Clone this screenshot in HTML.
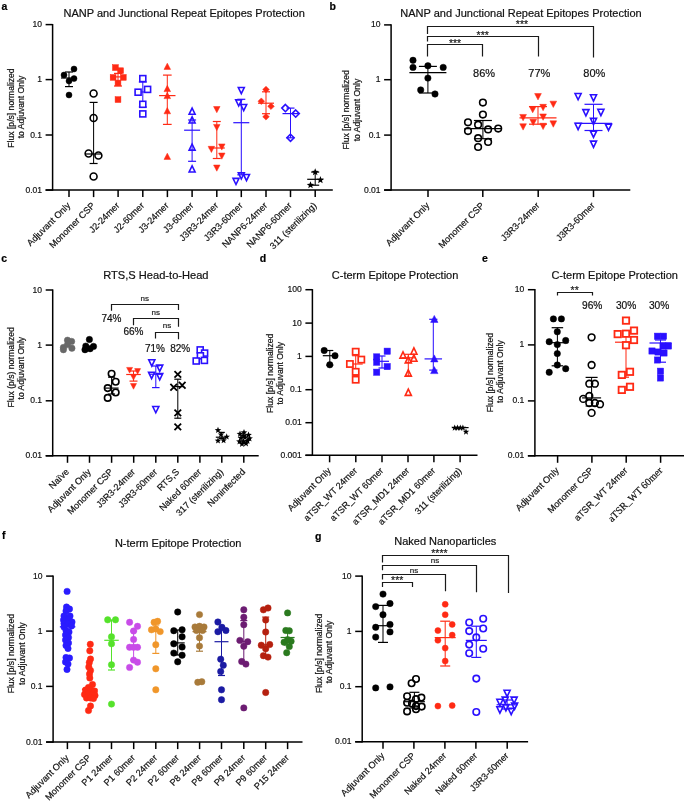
<!DOCTYPE html>
<html><head><meta charset="utf-8"><style>
html,body{margin:0;padding:0;background:#fff;}
svg{display:block;will-change:transform;}
text{font-family:"Liberation Sans",sans-serif;}
</style></head><body>
<svg width="685" height="801" viewBox="0 0 685 801">
<rect width="685" height="801" fill="#fff"/>
<text x="1.50" y="9.50" font-size="10.5" text-anchor="start" font-weight="bold" fill="#000" stroke="#000" stroke-width="0.2" >a</text>
<text x="184.20" y="16.70" font-size="11" text-anchor="middle" font-weight="normal" fill="#111" stroke="#111" stroke-width="0.2" >NANP and Junctional Repeat Epitopes Protection</text>
<line x1="52.60" y1="24.00" x2="52.60" y2="190.70" stroke="#000" stroke-width="1.5"/>
<line x1="45.60" y1="190.10" x2="332.80" y2="190.10" stroke="#000" stroke-width="1.5"/>
<line x1="45.60" y1="24.60" x2="52.60" y2="24.60" stroke="#000" stroke-width="1.5"/>
<text x="0.00" y="0.00" font-size="9.5" text-anchor="end" font-weight="normal" fill="#111" stroke="#111" stroke-width="0.2" transform="translate(42.00,27.17) scale(0.9,1)" >10</text>
<line x1="45.60" y1="79.60" x2="52.60" y2="79.60" stroke="#000" stroke-width="1.5"/>
<text x="0.00" y="0.00" font-size="9.5" text-anchor="end" font-weight="normal" fill="#111" stroke="#111" stroke-width="0.2" transform="translate(42.00,82.16) scale(0.9,1)" >1</text>
<line x1="45.60" y1="135.00" x2="52.60" y2="135.00" stroke="#000" stroke-width="1.5"/>
<text x="0.00" y="0.00" font-size="9.5" text-anchor="end" font-weight="normal" fill="#111" stroke="#111" stroke-width="0.2" transform="translate(42.00,137.56) scale(0.9,1)" >0.1</text>
<line x1="45.60" y1="190.10" x2="52.60" y2="190.10" stroke="#000" stroke-width="1.5"/>
<text x="0.00" y="0.00" font-size="9.5" text-anchor="end" font-weight="normal" fill="#111" stroke="#111" stroke-width="0.2" transform="translate(42.00,192.66) scale(0.9,1)" >0.01</text>
<line x1="69.00" y1="190.10" x2="69.00" y2="197.10" stroke="#000" stroke-width="1.5"/>
<text x="0.00" y="0.00" font-size="9.2" text-anchor="end" font-weight="normal" fill="#111" stroke="#111" stroke-width="0.2" transform="translate(71.00,206.10) rotate(-45)" >Adjuvant Only</text>
<line x1="93.60" y1="190.10" x2="93.60" y2="197.10" stroke="#000" stroke-width="1.5"/>
<text x="0.00" y="0.00" font-size="9.2" text-anchor="end" font-weight="normal" fill="#111" stroke="#111" stroke-width="0.2" transform="translate(95.60,206.10) rotate(-45)" >Monomer CSP</text>
<line x1="118.10" y1="190.10" x2="118.10" y2="197.10" stroke="#000" stroke-width="1.5"/>
<text x="0.00" y="0.00" font-size="9.2" text-anchor="end" font-weight="normal" fill="#111" stroke="#111" stroke-width="0.2" transform="translate(120.10,206.10) rotate(-45)" >J2-24mer</text>
<line x1="142.80" y1="190.10" x2="142.80" y2="197.10" stroke="#000" stroke-width="1.5"/>
<text x="0.00" y="0.00" font-size="9.2" text-anchor="end" font-weight="normal" fill="#111" stroke="#111" stroke-width="0.2" transform="translate(144.80,206.10) rotate(-45)" >J2-60mer</text>
<line x1="167.40" y1="190.10" x2="167.40" y2="197.10" stroke="#000" stroke-width="1.5"/>
<text x="0.00" y="0.00" font-size="9.2" text-anchor="end" font-weight="normal" fill="#111" stroke="#111" stroke-width="0.2" transform="translate(169.40,206.10) rotate(-45)" >J3-24mer</text>
<line x1="192.10" y1="190.10" x2="192.10" y2="197.10" stroke="#000" stroke-width="1.5"/>
<text x="0.00" y="0.00" font-size="9.2" text-anchor="end" font-weight="normal" fill="#111" stroke="#111" stroke-width="0.2" transform="translate(194.10,206.10) rotate(-45)" >J3-60mer</text>
<line x1="216.80" y1="190.10" x2="216.80" y2="197.10" stroke="#000" stroke-width="1.5"/>
<text x="0.00" y="0.00" font-size="9.2" text-anchor="end" font-weight="normal" fill="#111" stroke="#111" stroke-width="0.2" transform="translate(218.80,206.10) rotate(-45)" >J3R3-24mer</text>
<line x1="241.30" y1="190.10" x2="241.30" y2="197.10" stroke="#000" stroke-width="1.5"/>
<text x="0.00" y="0.00" font-size="9.2" text-anchor="end" font-weight="normal" fill="#111" stroke="#111" stroke-width="0.2" transform="translate(243.30,206.10) rotate(-45)" >J3R3-60mer</text>
<line x1="266.00" y1="190.10" x2="266.00" y2="197.10" stroke="#000" stroke-width="1.5"/>
<text x="0.00" y="0.00" font-size="9.2" text-anchor="end" font-weight="normal" fill="#111" stroke="#111" stroke-width="0.2" transform="translate(268.00,206.10) rotate(-45)" >NANP6-24mer</text>
<line x1="290.50" y1="190.10" x2="290.50" y2="197.10" stroke="#000" stroke-width="1.5"/>
<text x="0.00" y="0.00" font-size="9.2" text-anchor="end" font-weight="normal" fill="#111" stroke="#111" stroke-width="0.2" transform="translate(292.50,206.10) rotate(-45)" >NANP6-60mer</text>
<line x1="315.20" y1="190.10" x2="315.20" y2="197.10" stroke="#000" stroke-width="1.5"/>
<text x="0.00" y="0.00" font-size="9.2" text-anchor="end" font-weight="normal" fill="#111" stroke="#111" stroke-width="0.2" transform="translate(317.20,206.10) rotate(-45)" >311 (sterilizing)</text>
<text x="0.00" y="0.00" font-size="8.6" text-anchor="middle" font-weight="normal" fill="#111" stroke="#111" stroke-width="0.2" transform="translate(14.20,108.00) rotate(-90)" >Flux [p/s] normalized</text>
<text x="0.00" y="0.00" font-size="8.6" text-anchor="middle" font-weight="normal" fill="#111" stroke="#111" stroke-width="0.2" transform="translate(24.10,107.00) rotate(-90)" >to Adjuvant Only</text>
<line x1="69.00" y1="78.00" x2="69.00" y2="72.00" stroke="#000" stroke-width="1.02"/>
<line x1="65.00" y1="72.00" x2="73.00" y2="72.00" stroke="#000" stroke-width="1.2"/>
<line x1="69.00" y1="78.00" x2="69.00" y2="86.60" stroke="#000" stroke-width="1.02"/>
<line x1="65.00" y1="86.60" x2="73.00" y2="86.60" stroke="#000" stroke-width="1.2"/>
<line x1="61.00" y1="78.00" x2="77.00" y2="78.00" stroke="#000" stroke-width="1.2"/>
<circle cx="64.00" cy="75.00" r="3.00" fill="#000" stroke="#000" stroke-width="0.5"/>
<circle cx="74.00" cy="69.00" r="3.00" fill="#000" stroke="#000" stroke-width="0.5"/>
<circle cx="74.00" cy="78.60" r="3.00" fill="#000" stroke="#000" stroke-width="0.5"/>
<circle cx="69.00" cy="81.00" r="3.00" fill="#000" stroke="#000" stroke-width="0.5"/>
<circle cx="69.00" cy="95.00" r="3.00" fill="#000" stroke="#000" stroke-width="0.5"/>
<line x1="93.60" y1="154.00" x2="93.60" y2="102.40" stroke="#000" stroke-width="1.02"/>
<line x1="89.60" y1="102.40" x2="97.60" y2="102.40" stroke="#000" stroke-width="1.2"/>
<line x1="93.60" y1="154.00" x2="93.60" y2="163.50" stroke="#000" stroke-width="1.02"/>
<line x1="89.60" y1="163.50" x2="97.60" y2="163.50" stroke="#000" stroke-width="1.2"/>
<line x1="85.60" y1="154.00" x2="101.60" y2="154.00" stroke="#000" stroke-width="1.2"/>
<circle cx="93.60" cy="93.50" r="3.45" fill="none" stroke="#000" stroke-width="1.6"/>
<circle cx="93.60" cy="118.00" r="3.45" fill="none" stroke="#000" stroke-width="1.6"/>
<circle cx="88.60" cy="153.50" r="3.45" fill="none" stroke="#000" stroke-width="1.6"/>
<circle cx="98.40" cy="155.50" r="3.45" fill="none" stroke="#000" stroke-width="1.6"/>
<circle cx="93.60" cy="176.50" r="3.45" fill="none" stroke="#000" stroke-width="1.6"/>
<rect x="112.50" y="64.70" width="5.80" height="5.80" fill="#ff2a14" stroke="#ff2a14" stroke-width="0.5"/>
<rect x="117.70" y="67.80" width="5.80" height="5.80" fill="#ff2a14" stroke="#ff2a14" stroke-width="0.5"/>
<rect x="110.20" y="74.50" width="5.80" height="5.80" fill="#ff2a14" stroke="#ff2a14" stroke-width="0.5"/>
<rect x="120.40" y="74.50" width="5.80" height="5.80" fill="#ff2a14" stroke="#ff2a14" stroke-width="0.5"/>
<rect x="115.10" y="80.10" width="5.80" height="5.80" fill="#ff2a14" stroke="#ff2a14" stroke-width="0.5"/>
<rect x="115.10" y="96.70" width="5.80" height="5.80" fill="#ff2a14" stroke="#ff2a14" stroke-width="0.5"/>
<line x1="118.00" y1="76.90" x2="118.00" y2="73.40" stroke="#ff2a14" stroke-width="1.02"/>
<line x1="114.00" y1="73.40" x2="122.00" y2="73.40" stroke="#ff2a14" stroke-width="1.2"/>
<line x1="118.00" y1="76.90" x2="118.00" y2="86.00" stroke="#ff2a14" stroke-width="1.02"/>
<line x1="114.00" y1="86.00" x2="122.00" y2="86.00" stroke="#ff2a14" stroke-width="1.2"/>
<line x1="110.00" y1="76.90" x2="126.00" y2="76.90" stroke="#ff2a14" stroke-width="1.2"/>
<line x1="142.80" y1="92.00" x2="142.80" y2="82.00" stroke="#2a10ff" stroke-width="1.02"/>
<line x1="138.80" y1="82.00" x2="146.80" y2="82.00" stroke="#2a10ff" stroke-width="1.2"/>
<line x1="142.80" y1="92.00" x2="142.80" y2="107.00" stroke="#2a10ff" stroke-width="1.02"/>
<line x1="138.80" y1="107.00" x2="146.80" y2="107.00" stroke="#2a10ff" stroke-width="1.2"/>
<line x1="134.80" y1="92.00" x2="150.80" y2="92.00" stroke="#2a10ff" stroke-width="1.2"/>
<rect x="139.80" y="75.60" width="6.00" height="6.00" fill="#fff" stroke="#2a10ff" stroke-width="1.6"/>
<rect x="135.10" y="89.20" width="6.00" height="6.00" fill="#fff" stroke="#2a10ff" stroke-width="1.6"/>
<rect x="144.60" y="86.40" width="6.00" height="6.00" fill="#fff" stroke="#2a10ff" stroke-width="1.6"/>
<rect x="139.80" y="101.30" width="6.00" height="6.00" fill="#fff" stroke="#2a10ff" stroke-width="1.6"/>
<rect x="139.80" y="110.90" width="6.00" height="6.00" fill="#fff" stroke="#2a10ff" stroke-width="1.6"/>
<line x1="167.30" y1="95.60" x2="167.30" y2="75.10" stroke="#ff2a14" stroke-width="1.02"/>
<line x1="162.95" y1="75.10" x2="171.65" y2="75.10" stroke="#ff2a14" stroke-width="1.2"/>
<line x1="167.30" y1="95.60" x2="167.30" y2="124.40" stroke="#ff2a14" stroke-width="1.02"/>
<line x1="162.95" y1="124.40" x2="171.65" y2="124.40" stroke="#ff2a14" stroke-width="1.2"/>
<line x1="159.10" y1="95.60" x2="175.50" y2="95.60" stroke="#ff2a14" stroke-width="1.2"/>
<polygon points="167.30,63.14 170.60,69.41 164.00,69.41" fill="#ff2a14" stroke="#ff2a14" stroke-width="0.5" stroke-linejoin="miter"/>
<polygon points="167.30,85.34 170.60,91.61 164.00,91.61" fill="#ff2a14" stroke="#ff2a14" stroke-width="0.5" stroke-linejoin="miter"/>
<polygon points="167.30,92.34 170.60,98.61 164.00,98.61" fill="#ff2a14" stroke="#ff2a14" stroke-width="0.5" stroke-linejoin="miter"/>
<polygon points="167.30,107.54 170.60,113.81 164.00,113.81" fill="#ff2a14" stroke="#ff2a14" stroke-width="0.5" stroke-linejoin="miter"/>
<polygon points="167.30,153.14 170.60,159.41 164.00,159.41" fill="#ff2a14" stroke="#ff2a14" stroke-width="0.5" stroke-linejoin="miter"/>
<line x1="192.10" y1="130.20" x2="192.10" y2="120.00" stroke="#2a10ff" stroke-width="1.02"/>
<line x1="188.10" y1="120.00" x2="196.10" y2="120.00" stroke="#2a10ff" stroke-width="1.2"/>
<line x1="192.10" y1="130.20" x2="192.10" y2="161.30" stroke="#2a10ff" stroke-width="1.02"/>
<line x1="188.10" y1="161.30" x2="196.10" y2="161.30" stroke="#2a10ff" stroke-width="1.2"/>
<line x1="184.10" y1="130.20" x2="200.10" y2="130.20" stroke="#2a10ff" stroke-width="1.2"/>
<polygon points="192.10,108.09 195.09,114.27 189.11,114.27" fill="none" stroke="#2a10ff" stroke-width="1.6" stroke-linejoin="miter"/>
<polygon points="192.10,116.89 195.09,123.07 189.11,123.07" fill="none" stroke="#2a10ff" stroke-width="1.6" stroke-linejoin="miter"/>
<polygon points="192.10,143.99 195.09,150.17 189.11,150.17" fill="none" stroke="#2a10ff" stroke-width="1.6" stroke-linejoin="miter"/>
<polygon points="192.10,165.79 195.09,171.97 189.11,171.97" fill="none" stroke="#2a10ff" stroke-width="1.6" stroke-linejoin="miter"/>
<line x1="216.80" y1="148.00" x2="216.80" y2="121.50" stroke="#ff2a14" stroke-width="1.02"/>
<line x1="212.80" y1="121.50" x2="220.80" y2="121.50" stroke="#ff2a14" stroke-width="1.2"/>
<line x1="216.80" y1="148.00" x2="216.80" y2="158.50" stroke="#ff2a14" stroke-width="1.02"/>
<line x1="212.80" y1="158.50" x2="220.80" y2="158.50" stroke="#ff2a14" stroke-width="1.2"/>
<line x1="208.80" y1="148.00" x2="224.80" y2="148.00" stroke="#ff2a14" stroke-width="1.2"/>
<polygon points="216.80,112.70 220.05,106.53 213.55,106.53" fill="#ff2a14" stroke="#ff2a14" stroke-width="0.5" stroke-linejoin="miter"/>
<polygon points="216.80,130.61 220.05,124.43 213.55,124.43" fill="#ff2a14" stroke="#ff2a14" stroke-width="0.5" stroke-linejoin="miter"/>
<polygon points="211.40,152.51 214.65,146.33 208.15,146.33" fill="#ff2a14" stroke="#ff2a14" stroke-width="0.5" stroke-linejoin="miter"/>
<polygon points="221.80,150.11 225.05,143.93 218.55,143.93" fill="#ff2a14" stroke="#ff2a14" stroke-width="0.5" stroke-linejoin="miter"/>
<polygon points="221.80,159.21 225.05,153.03 218.55,153.03" fill="#ff2a14" stroke="#ff2a14" stroke-width="0.5" stroke-linejoin="miter"/>
<polygon points="216.80,171.21 220.05,165.03 213.55,165.03" fill="#ff2a14" stroke="#ff2a14" stroke-width="0.5" stroke-linejoin="miter"/>
<line x1="241.30" y1="122.70" x2="241.30" y2="99.30" stroke="#2a10ff" stroke-width="1.02"/>
<line x1="237.30" y1="99.30" x2="245.30" y2="99.30" stroke="#2a10ff" stroke-width="1.2"/>
<line x1="241.30" y1="122.70" x2="241.30" y2="174.80" stroke="#2a10ff" stroke-width="1.02"/>
<line x1="237.30" y1="174.80" x2="245.30" y2="174.80" stroke="#2a10ff" stroke-width="1.2"/>
<line x1="233.30" y1="122.70" x2="249.30" y2="122.70" stroke="#2a10ff" stroke-width="1.2"/>
<polygon points="241.30,93.70 244.29,87.53 238.31,87.53" fill="none" stroke="#2a10ff" stroke-width="1.6" stroke-linejoin="miter"/>
<polygon points="238.70,106.00 241.69,99.83 235.71,99.83" fill="none" stroke="#2a10ff" stroke-width="1.6" stroke-linejoin="miter"/>
<polygon points="243.70,110.70 246.69,104.53 240.71,104.53" fill="none" stroke="#2a10ff" stroke-width="1.6" stroke-linejoin="miter"/>
<polygon points="241.30,179.01 244.29,172.83 238.31,172.83" fill="none" stroke="#2a10ff" stroke-width="1.6" stroke-linejoin="miter"/>
<polygon points="246.50,180.61 249.49,174.43 243.51,174.43" fill="none" stroke="#2a10ff" stroke-width="1.6" stroke-linejoin="miter"/>
<polygon points="236.00,184.51 238.99,178.33 233.01,178.33" fill="none" stroke="#2a10ff" stroke-width="1.6" stroke-linejoin="miter"/>
<line x1="266.00" y1="103.20" x2="266.00" y2="91.80" stroke="#ff2a14" stroke-width="1.02"/>
<line x1="262.00" y1="91.80" x2="270.00" y2="91.80" stroke="#ff2a14" stroke-width="1.2"/>
<line x1="266.00" y1="103.20" x2="266.00" y2="113.70" stroke="#ff2a14" stroke-width="1.02"/>
<line x1="262.00" y1="113.70" x2="270.00" y2="113.70" stroke="#ff2a14" stroke-width="1.2"/>
<line x1="258.00" y1="103.20" x2="274.00" y2="103.20" stroke="#ff2a14" stroke-width="1.2"/>
<polygon points="266.00,86.20 269.30,89.50 266.00,92.80 262.70,89.50" fill="#ff2a14" stroke="#ff2a14" stroke-width="0.5"/>
<polygon points="261.30,97.90 264.60,101.20 261.30,104.50 258.00,101.20" fill="#ff2a14" stroke="#ff2a14" stroke-width="0.5"/>
<polygon points="271.00,103.00 274.30,106.30 271.00,109.60 267.70,106.30" fill="#ff2a14" stroke="#ff2a14" stroke-width="0.5"/>
<polygon points="266.00,113.50 269.30,116.80 266.00,120.10 262.70,116.80" fill="#ff2a14" stroke="#ff2a14" stroke-width="0.5"/>
<line x1="290.50" y1="113.60" x2="290.50" y2="108.10" stroke="#2a10ff" stroke-width="1.02"/>
<line x1="286.50" y1="108.10" x2="294.50" y2="108.10" stroke="#2a10ff" stroke-width="1.2"/>
<line x1="290.50" y1="113.60" x2="290.50" y2="137.80" stroke="#2a10ff" stroke-width="1.02"/>
<line x1="286.50" y1="137.80" x2="294.50" y2="137.80" stroke="#2a10ff" stroke-width="1.2"/>
<line x1="282.50" y1="113.60" x2="298.50" y2="113.60" stroke="#2a10ff" stroke-width="1.2"/>
<polygon points="285.40,104.50 289.00,108.10 285.40,111.70 281.80,108.10" fill="none" stroke="#2a10ff" stroke-width="1.6"/>
<polygon points="295.70,110.00 299.30,113.60 295.70,117.20 292.10,113.60" fill="none" stroke="#2a10ff" stroke-width="1.6"/>
<polygon points="290.50,134.20 294.10,137.80 290.50,141.40 286.90,137.80" fill="none" stroke="#2a10ff" stroke-width="1.6"/>
<line x1="315.20" y1="179.30" x2="315.20" y2="172.10" stroke="#000" stroke-width="1.02"/>
<line x1="311.20" y1="172.10" x2="319.20" y2="172.10" stroke="#000" stroke-width="1.2"/>
<line x1="315.20" y1="179.30" x2="315.20" y2="185.20" stroke="#000" stroke-width="1.02"/>
<line x1="311.20" y1="185.20" x2="319.20" y2="185.20" stroke="#000" stroke-width="1.2"/>
<line x1="307.20" y1="179.30" x2="323.20" y2="179.30" stroke="#000" stroke-width="1.2"/>
<polygon points="315.20,168.19 316.17,170.77 318.92,170.89 316.76,172.61 317.50,175.26 315.20,173.74 312.90,175.26 313.64,172.61 311.48,170.89 314.23,170.77" fill="#000" stroke="none"/>
<polygon points="320.40,176.09 321.37,178.67 324.12,178.79 321.96,180.51 322.70,183.16 320.40,181.64 318.10,183.16 318.84,180.51 316.68,178.79 319.43,178.67" fill="#000" stroke="none"/>
<polygon points="310.50,181.29 311.47,183.87 314.22,183.99 312.06,185.71 312.80,188.36 310.50,186.84 308.20,188.36 308.94,185.71 306.78,183.99 309.53,183.87" fill="#000" stroke="none"/>
<text x="329.50" y="9.50" font-size="10.5" text-anchor="start" font-weight="bold" fill="#000" stroke="#000" stroke-width="0.2" >b</text>
<text x="521.00" y="16.70" font-size="11" text-anchor="middle" font-weight="normal" fill="#111" stroke="#111" stroke-width="0.2" >NANP and Junctional Repeat Epitopes Protection</text>
<line x1="391.10" y1="24.30" x2="391.10" y2="190.70" stroke="#000" stroke-width="1.5"/>
<line x1="384.10" y1="190.10" x2="630.30" y2="190.10" stroke="#000" stroke-width="1.5"/>
<line x1="384.10" y1="24.90" x2="391.10" y2="24.90" stroke="#000" stroke-width="1.5"/>
<text x="0.00" y="0.00" font-size="9.5" text-anchor="end" font-weight="normal" fill="#111" stroke="#111" stroke-width="0.2" transform="translate(380.50,27.46) scale(0.9,1)" >10</text>
<line x1="384.10" y1="79.70" x2="391.10" y2="79.70" stroke="#000" stroke-width="1.5"/>
<text x="0.00" y="0.00" font-size="9.5" text-anchor="end" font-weight="normal" fill="#111" stroke="#111" stroke-width="0.2" transform="translate(380.50,82.27) scale(0.9,1)" >1</text>
<line x1="384.10" y1="135.10" x2="391.10" y2="135.10" stroke="#000" stroke-width="1.5"/>
<text x="0.00" y="0.00" font-size="9.5" text-anchor="end" font-weight="normal" fill="#111" stroke="#111" stroke-width="0.2" transform="translate(380.50,137.66) scale(0.9,1)" >0.1</text>
<line x1="384.10" y1="190.10" x2="391.10" y2="190.10" stroke="#000" stroke-width="1.5"/>
<text x="0.00" y="0.00" font-size="9.5" text-anchor="end" font-weight="normal" fill="#111" stroke="#111" stroke-width="0.2" transform="translate(380.50,192.66) scale(0.9,1)" >0.01</text>
<line x1="428.00" y1="190.10" x2="428.00" y2="197.10" stroke="#000" stroke-width="1.5"/>
<text x="0.00" y="0.00" font-size="9.2" text-anchor="end" font-weight="normal" fill="#111" stroke="#111" stroke-width="0.2" transform="translate(430.00,206.10) rotate(-45)" >Adjuvant Only</text>
<line x1="482.80" y1="190.10" x2="482.80" y2="197.10" stroke="#000" stroke-width="1.5"/>
<text x="0.00" y="0.00" font-size="9.2" text-anchor="end" font-weight="normal" fill="#111" stroke="#111" stroke-width="0.2" transform="translate(484.80,206.10) rotate(-45)" >Monomer CSP</text>
<line x1="538.20" y1="190.10" x2="538.20" y2="197.10" stroke="#000" stroke-width="1.5"/>
<text x="0.00" y="0.00" font-size="9.2" text-anchor="end" font-weight="normal" fill="#111" stroke="#111" stroke-width="0.2" transform="translate(540.20,206.10) rotate(-45)" >J3R3-24mer</text>
<line x1="593.50" y1="190.10" x2="593.50" y2="197.10" stroke="#000" stroke-width="1.5"/>
<text x="0.00" y="0.00" font-size="9.2" text-anchor="end" font-weight="normal" fill="#111" stroke="#111" stroke-width="0.2" transform="translate(595.50,206.10) rotate(-45)" >J3R3-60mer</text>
<text x="0.00" y="0.00" font-size="8.6" text-anchor="middle" font-weight="normal" fill="#111" stroke="#111" stroke-width="0.2" transform="translate(348.80,109.80) rotate(-90)" >Flux [p/s] normalized</text>
<text x="0.00" y="0.00" font-size="8.6" text-anchor="middle" font-weight="normal" fill="#111" stroke="#111" stroke-width="0.2" transform="translate(359.50,110.00) rotate(-90)" >to Adjuvant Only</text>
<path d="M427.50,34.00V26.50H593.50V57.40" stroke="#1a1a1a" stroke-width="1.2" fill="none"/>
<text x="522.00" y="28.07" font-size="10.5" text-anchor="middle" font-weight="normal" fill="#222" stroke="#222" stroke-width="0.2" >***</text>
<path d="M427.50,41.60V36.50H538.50V56.60" stroke="#1a1a1a" stroke-width="1.2" fill="none"/>
<text x="482.75" y="38.97" font-size="10.5" text-anchor="middle" font-weight="normal" fill="#222" stroke="#222" stroke-width="0.2" >***</text>
<path d="M427.50,56.60V44.50H482.50V56.60" stroke="#1a1a1a" stroke-width="1.2" fill="none"/>
<text x="455.05" y="46.97" font-size="10.5" text-anchor="middle" font-weight="normal" fill="#222" stroke="#222" stroke-width="0.2" >***</text>
<text x="484.10" y="77.30" font-size="11.0" text-anchor="middle" font-weight="normal" fill="#111" stroke="#111" stroke-width="0.2" >86%</text>
<text x="539.30" y="77.30" font-size="11.0" text-anchor="middle" font-weight="normal" fill="#111" stroke="#111" stroke-width="0.2" >77%</text>
<text x="594.30" y="77.30" font-size="11.0" text-anchor="middle" font-weight="normal" fill="#111" stroke="#111" stroke-width="0.2" >80%</text>
<line x1="427.90" y1="72.60" x2="427.90" y2="66.40" stroke="#000" stroke-width="1.02"/>
<line x1="418.90" y1="66.40" x2="436.90" y2="66.40" stroke="#000" stroke-width="1.2"/>
<line x1="427.90" y1="72.60" x2="427.90" y2="93.00" stroke="#000" stroke-width="1.02"/>
<line x1="418.90" y1="93.00" x2="436.90" y2="93.00" stroke="#000" stroke-width="1.2"/>
<line x1="409.40" y1="72.60" x2="446.40" y2="72.60" stroke="#000" stroke-width="1.2"/>
<circle cx="413.00" cy="60.30" r="3.20" fill="#000" stroke="#000" stroke-width="0.5"/>
<circle cx="413.00" cy="67.40" r="3.20" fill="#000" stroke="#000" stroke-width="0.5"/>
<circle cx="427.90" cy="65.80" r="3.20" fill="#000" stroke="#000" stroke-width="0.5"/>
<circle cx="443.20" cy="67.40" r="3.20" fill="#000" stroke="#000" stroke-width="0.5"/>
<circle cx="427.90" cy="78.10" r="3.20" fill="#000" stroke="#000" stroke-width="0.5"/>
<circle cx="420.70" cy="89.90" r="3.20" fill="#000" stroke="#000" stroke-width="0.5"/>
<circle cx="435.00" cy="94.00" r="3.20" fill="#000" stroke="#000" stroke-width="0.5"/>
<line x1="482.90" y1="128.70" x2="482.90" y2="120.50" stroke="#000" stroke-width="1.02"/>
<line x1="473.90" y1="120.50" x2="491.90" y2="120.50" stroke="#000" stroke-width="1.2"/>
<line x1="482.90" y1="128.70" x2="482.90" y2="138.70" stroke="#000" stroke-width="1.02"/>
<line x1="473.90" y1="138.70" x2="491.90" y2="138.70" stroke="#000" stroke-width="1.2"/>
<line x1="464.40" y1="128.70" x2="501.40" y2="128.70" stroke="#000" stroke-width="1.2"/>
<circle cx="482.90" cy="102.60" r="3.30" fill="none" stroke="#000" stroke-width="1.6"/>
<circle cx="482.90" cy="114.60" r="3.30" fill="none" stroke="#000" stroke-width="1.6"/>
<circle cx="468.00" cy="122.30" r="3.30" fill="none" stroke="#000" stroke-width="1.6"/>
<circle cx="478.10" cy="124.70" r="3.30" fill="none" stroke="#000" stroke-width="1.6"/>
<circle cx="468.00" cy="131.10" r="3.30" fill="none" stroke="#000" stroke-width="1.6"/>
<circle cx="488.10" cy="129.40" r="3.30" fill="none" stroke="#000" stroke-width="1.6"/>
<circle cx="498.20" cy="128.60" r="3.30" fill="none" stroke="#000" stroke-width="1.6"/>
<circle cx="478.10" cy="138.20" r="3.30" fill="none" stroke="#000" stroke-width="1.6"/>
<circle cx="488.10" cy="141.90" r="3.30" fill="none" stroke="#000" stroke-width="1.6"/>
<circle cx="478.10" cy="147.00" r="3.30" fill="none" stroke="#000" stroke-width="1.6"/>
<line x1="538.00" y1="117.80" x2="538.00" y2="106.60" stroke="#ff2a14" stroke-width="1.02"/>
<line x1="529.00" y1="106.60" x2="547.00" y2="106.60" stroke="#ff2a14" stroke-width="1.2"/>
<line x1="538.00" y1="117.80" x2="538.00" y2="124.20" stroke="#ff2a14" stroke-width="1.02"/>
<line x1="529.00" y1="124.20" x2="547.00" y2="124.20" stroke="#ff2a14" stroke-width="1.2"/>
<line x1="519.50" y1="117.80" x2="556.50" y2="117.80" stroke="#ff2a14" stroke-width="1.2"/>
<polygon points="538.00,99.92 541.35,93.55 534.65,93.55" fill="#ff2a14" stroke="#ff2a14" stroke-width="0.5" stroke-linejoin="miter"/>
<polygon points="553.30,107.52 556.65,101.15 549.95,101.15" fill="#ff2a14" stroke="#ff2a14" stroke-width="0.5" stroke-linejoin="miter"/>
<polygon points="532.70,112.82 536.05,106.45 529.35,106.45" fill="#ff2a14" stroke="#ff2a14" stroke-width="0.5" stroke-linejoin="miter"/>
<polygon points="543.10,110.72 546.45,104.35 539.75,104.35" fill="#ff2a14" stroke="#ff2a14" stroke-width="0.5" stroke-linejoin="miter"/>
<polygon points="523.10,120.82 526.45,114.45 519.75,114.45" fill="#ff2a14" stroke="#ff2a14" stroke-width="0.5" stroke-linejoin="miter"/>
<polygon points="543.10,120.32 546.45,113.95 539.75,113.95" fill="#ff2a14" stroke="#ff2a14" stroke-width="0.5" stroke-linejoin="miter"/>
<polygon points="533.20,125.62 536.55,119.25 529.85,119.25" fill="#ff2a14" stroke="#ff2a14" stroke-width="0.5" stroke-linejoin="miter"/>
<polygon points="523.10,130.12 526.45,123.75 519.75,123.75" fill="#ff2a14" stroke="#ff2a14" stroke-width="0.5" stroke-linejoin="miter"/>
<polygon points="543.10,129.62 546.45,123.25 539.75,123.25" fill="#ff2a14" stroke="#ff2a14" stroke-width="0.5" stroke-linejoin="miter"/>
<polygon points="553.30,127.22 556.65,120.85 549.95,120.85" fill="#ff2a14" stroke="#ff2a14" stroke-width="0.5" stroke-linejoin="miter"/>
<line x1="593.50" y1="123.40" x2="593.50" y2="104.30" stroke="#2a10ff" stroke-width="1.02"/>
<line x1="584.50" y1="104.30" x2="602.50" y2="104.30" stroke="#2a10ff" stroke-width="1.2"/>
<line x1="593.50" y1="123.40" x2="593.50" y2="130.50" stroke="#2a10ff" stroke-width="1.02"/>
<line x1="584.50" y1="130.50" x2="602.50" y2="130.50" stroke="#2a10ff" stroke-width="1.2"/>
<line x1="575.00" y1="123.40" x2="612.00" y2="123.40" stroke="#2a10ff" stroke-width="1.2"/>
<polygon points="578.10,99.76 581.14,93.49 575.06,93.49" fill="none" stroke="#2a10ff" stroke-width="1.6" stroke-linejoin="miter"/>
<polygon points="593.50,101.06 596.54,94.79 590.46,94.79" fill="none" stroke="#2a10ff" stroke-width="1.6" stroke-linejoin="miter"/>
<polygon points="585.90,115.86 588.94,109.59 582.86,109.59" fill="none" stroke="#2a10ff" stroke-width="1.6" stroke-linejoin="miter"/>
<polygon points="600.90,115.56 603.94,109.29 597.86,109.29" fill="none" stroke="#2a10ff" stroke-width="1.6" stroke-linejoin="miter"/>
<polygon points="593.50,124.66 596.54,118.39 590.46,118.39" fill="none" stroke="#2a10ff" stroke-width="1.6" stroke-linejoin="miter"/>
<polygon points="578.10,129.56 581.14,123.29 575.06,123.29" fill="none" stroke="#2a10ff" stroke-width="1.6" stroke-linejoin="miter"/>
<polygon points="608.50,130.46 611.54,124.19 605.46,124.19" fill="none" stroke="#2a10ff" stroke-width="1.6" stroke-linejoin="miter"/>
<polygon points="593.50,137.46 596.54,131.19 590.46,131.19" fill="none" stroke="#2a10ff" stroke-width="1.6" stroke-linejoin="miter"/>
<polygon points="593.50,147.36 596.54,141.09 590.46,141.09" fill="none" stroke="#2a10ff" stroke-width="1.6" stroke-linejoin="miter"/>
<text x="1.30" y="262.00" font-size="10.5" text-anchor="start" font-weight="bold" fill="#000" stroke="#000" stroke-width="0.2" >c</text>
<text x="155.90" y="279.30" font-size="11.1" text-anchor="middle" font-weight="normal" fill="#111" stroke="#111" stroke-width="0.2" >RTS,S Head-to-Head</text>
<line x1="52.70" y1="289.40" x2="52.70" y2="456.40" stroke="#000" stroke-width="1.5"/>
<line x1="45.70" y1="455.80" x2="258.70" y2="455.80" stroke="#000" stroke-width="1.5"/>
<line x1="45.70" y1="290.00" x2="52.70" y2="290.00" stroke="#000" stroke-width="1.5"/>
<text x="0.00" y="0.00" font-size="9.5" text-anchor="end" font-weight="normal" fill="#111" stroke="#111" stroke-width="0.2" transform="translate(42.10,292.56) scale(0.9,1)" >10</text>
<line x1="45.70" y1="345.10" x2="52.70" y2="345.10" stroke="#000" stroke-width="1.5"/>
<text x="0.00" y="0.00" font-size="9.5" text-anchor="end" font-weight="normal" fill="#111" stroke="#111" stroke-width="0.2" transform="translate(42.10,347.67) scale(0.9,1)" >1</text>
<line x1="45.70" y1="400.80" x2="52.70" y2="400.80" stroke="#000" stroke-width="1.5"/>
<text x="0.00" y="0.00" font-size="9.5" text-anchor="end" font-weight="normal" fill="#111" stroke="#111" stroke-width="0.2" transform="translate(42.10,403.37) scale(0.9,1)" >0.1</text>
<line x1="45.70" y1="455.80" x2="52.70" y2="455.80" stroke="#000" stroke-width="1.5"/>
<text x="0.00" y="0.00" font-size="9.5" text-anchor="end" font-weight="normal" fill="#111" stroke="#111" stroke-width="0.2" transform="translate(42.10,458.37) scale(0.9,1)" >0.01</text>
<line x1="67.50" y1="455.80" x2="67.50" y2="462.80" stroke="#000" stroke-width="1.5"/>
<text x="0.00" y="0.00" font-size="9.2" text-anchor="end" font-weight="normal" fill="#111" stroke="#111" stroke-width="0.2" transform="translate(69.50,472.50) rotate(-45)" >Naïve</text>
<line x1="89.50" y1="455.80" x2="89.50" y2="462.80" stroke="#000" stroke-width="1.5"/>
<text x="0.00" y="0.00" font-size="9.2" text-anchor="end" font-weight="normal" fill="#111" stroke="#111" stroke-width="0.2" transform="translate(91.50,472.50) rotate(-45)" >Adjuvant Only</text>
<line x1="111.60" y1="455.80" x2="111.60" y2="462.80" stroke="#000" stroke-width="1.5"/>
<text x="0.00" y="0.00" font-size="9.2" text-anchor="end" font-weight="normal" fill="#111" stroke="#111" stroke-width="0.2" transform="translate(113.60,472.50) rotate(-45)" >Monomer CSP</text>
<line x1="133.70" y1="455.80" x2="133.70" y2="462.80" stroke="#000" stroke-width="1.5"/>
<text x="0.00" y="0.00" font-size="9.2" text-anchor="end" font-weight="normal" fill="#111" stroke="#111" stroke-width="0.2" transform="translate(135.70,472.50) rotate(-45)" >J3R3-24mer</text>
<line x1="155.80" y1="455.80" x2="155.80" y2="462.80" stroke="#000" stroke-width="1.5"/>
<text x="0.00" y="0.00" font-size="9.2" text-anchor="end" font-weight="normal" fill="#111" stroke="#111" stroke-width="0.2" transform="translate(157.80,472.50) rotate(-45)" >J3R3-60mer</text>
<line x1="177.80" y1="455.80" x2="177.80" y2="462.80" stroke="#000" stroke-width="1.5"/>
<text x="0.00" y="0.00" font-size="9.2" text-anchor="end" font-weight="normal" fill="#111" stroke="#111" stroke-width="0.2" transform="translate(179.80,472.50) rotate(-45)" >RTS,S</text>
<line x1="199.90" y1="455.80" x2="199.90" y2="462.80" stroke="#000" stroke-width="1.5"/>
<text x="0.00" y="0.00" font-size="9.2" text-anchor="end" font-weight="normal" fill="#111" stroke="#111" stroke-width="0.2" transform="translate(201.90,472.50) rotate(-45)" >Naked 60mer</text>
<line x1="221.80" y1="455.80" x2="221.80" y2="462.80" stroke="#000" stroke-width="1.5"/>
<text x="0.00" y="0.00" font-size="9.2" text-anchor="end" font-weight="normal" fill="#111" stroke="#111" stroke-width="0.2" transform="translate(223.80,472.50) rotate(-45)" >317 (sterilizing)</text>
<line x1="243.80" y1="455.80" x2="243.80" y2="462.80" stroke="#000" stroke-width="1.5"/>
<text x="0.00" y="0.00" font-size="9.2" text-anchor="end" font-weight="normal" fill="#111" stroke="#111" stroke-width="0.2" transform="translate(245.80,472.50) rotate(-45)" >Noninfected</text>
<text x="0.00" y="0.00" font-size="8.6" text-anchor="middle" font-weight="normal" fill="#111" stroke="#111" stroke-width="0.2" transform="translate(14.40,367.30) rotate(-90)" >Flux (p/s) normalized</text>
<text x="0.00" y="0.00" font-size="8.6" text-anchor="middle" font-weight="normal" fill="#111" stroke="#111" stroke-width="0.2" transform="translate(24.10,368.20) rotate(-90)" >to Adjuvant Only</text>
<path d="M111.50,310.80V304.50H178.50V309.90" stroke="#1a1a1a" stroke-width="1.2" fill="none"/>
<text x="144.70" y="300.70" font-size="8" text-anchor="middle" font-weight="normal" fill="#222" stroke="#222" stroke-width="0.2" >ns</text>
<path d="M133.50,325.30V318.50H178.50V326.80" stroke="#1a1a1a" stroke-width="1.2" fill="none"/>
<text x="155.85" y="314.50" font-size="8" text-anchor="middle" font-weight="normal" fill="#222" stroke="#222" stroke-width="0.2" >ns</text>
<path d="M155.50,338.40V332.50H178.50V339.30" stroke="#1a1a1a" stroke-width="1.2" fill="none"/>
<text x="166.95" y="328.10" font-size="8" text-anchor="middle" font-weight="normal" fill="#222" stroke="#222" stroke-width="0.2" >ns</text>
<text x="111.50" y="321.50" font-size="10.0" text-anchor="middle" font-weight="normal" fill="#111" stroke="#111" stroke-width="0.2" >74%</text>
<text x="133.40" y="335.00" font-size="10.0" text-anchor="middle" font-weight="normal" fill="#111" stroke="#111" stroke-width="0.2" >66%</text>
<text x="154.90" y="351.50" font-size="10.0" text-anchor="middle" font-weight="normal" fill="#111" stroke="#111" stroke-width="0.2" >71%</text>
<text x="180.20" y="351.50" font-size="10.0" text-anchor="middle" font-weight="normal" fill="#111" stroke="#111" stroke-width="0.2" >82%</text>
<line x1="67.50" y1="345.00" x2="67.50" y2="345.00" stroke="#686868" stroke-width="1.2"/>
<circle cx="67.50" cy="340.20" r="3.20" fill="#686868" stroke="#686868" stroke-width="0.5"/>
<circle cx="71.60" cy="341.40" r="3.20" fill="#686868" stroke="#686868" stroke-width="0.5"/>
<circle cx="63.40" cy="347.50" r="3.20" fill="#686868" stroke="#686868" stroke-width="0.5"/>
<circle cx="67.50" cy="344.60" r="3.20" fill="#686868" stroke="#686868" stroke-width="0.5"/>
<circle cx="63.40" cy="349.70" r="3.20" fill="#686868" stroke="#686868" stroke-width="0.5"/>
<circle cx="71.90" cy="348.20" r="3.20" fill="#686868" stroke="#686868" stroke-width="0.5"/>
<line x1="89.40" y1="346.00" x2="89.40" y2="346.00" stroke="#000" stroke-width="1.2"/>
<circle cx="89.40" cy="339.50" r="3.20" fill="#000" stroke="#000" stroke-width="0.5"/>
<circle cx="85.80" cy="346.10" r="3.20" fill="#000" stroke="#000" stroke-width="0.5"/>
<circle cx="93.50" cy="346.40" r="3.20" fill="#000" stroke="#000" stroke-width="0.5"/>
<circle cx="85.00" cy="349.70" r="3.20" fill="#000" stroke="#000" stroke-width="0.5"/>
<circle cx="90.10" cy="348.70" r="3.20" fill="#000" stroke="#000" stroke-width="0.5"/>
<line x1="111.60" y1="388.10" x2="111.60" y2="377.20" stroke="#000" stroke-width="1.02"/>
<line x1="108.10" y1="377.20" x2="115.10" y2="377.20" stroke="#000" stroke-width="1.2"/>
<line x1="111.60" y1="388.10" x2="111.60" y2="394.00" stroke="#000" stroke-width="1.02"/>
<line x1="108.10" y1="394.00" x2="115.10" y2="394.00" stroke="#000" stroke-width="1.2"/>
<line x1="104.60" y1="388.10" x2="118.60" y2="388.10" stroke="#000" stroke-width="1.2"/>
<circle cx="111.60" cy="373.80" r="3.25" fill="none" stroke="#000" stroke-width="1.6"/>
<circle cx="115.70" cy="381.80" r="3.25" fill="none" stroke="#000" stroke-width="1.6"/>
<circle cx="107.70" cy="388.10" r="3.25" fill="none" stroke="#000" stroke-width="1.6"/>
<circle cx="115.70" cy="392.50" r="3.25" fill="none" stroke="#000" stroke-width="1.6"/>
<circle cx="107.70" cy="397.90" r="3.25" fill="none" stroke="#000" stroke-width="1.6"/>
<line x1="133.50" y1="374.50" x2="133.50" y2="371.00" stroke="#ff2a14" stroke-width="1.02"/>
<line x1="129.50" y1="371.00" x2="137.50" y2="371.00" stroke="#ff2a14" stroke-width="1.2"/>
<line x1="133.50" y1="374.50" x2="133.50" y2="381.10" stroke="#ff2a14" stroke-width="1.02"/>
<line x1="129.50" y1="381.10" x2="137.50" y2="381.10" stroke="#ff2a14" stroke-width="1.2"/>
<line x1="126.20" y1="374.50" x2="140.80" y2="374.50" stroke="#ff2a14" stroke-width="1.2"/>
<polygon points="129.60,373.12 132.60,367.42 126.60,367.42" fill="#ff2a14" stroke="#ff2a14" stroke-width="0.5" stroke-linejoin="miter"/>
<polygon points="137.60,374.32 140.60,368.62 134.60,368.62" fill="#ff2a14" stroke="#ff2a14" stroke-width="0.5" stroke-linejoin="miter"/>
<polygon points="133.50,380.12 136.50,374.42 130.50,374.42" fill="#ff2a14" stroke="#ff2a14" stroke-width="0.5" stroke-linejoin="miter"/>
<polygon points="133.50,389.22 136.50,383.52 130.50,383.52" fill="#ff2a14" stroke="#ff2a14" stroke-width="0.5" stroke-linejoin="miter"/>
<line x1="155.80" y1="374.20" x2="155.80" y2="366.00" stroke="#2a10ff" stroke-width="1.02"/>
<line x1="152.05" y1="366.00" x2="159.55" y2="366.00" stroke="#2a10ff" stroke-width="1.2"/>
<line x1="155.80" y1="374.20" x2="155.80" y2="387.60" stroke="#2a10ff" stroke-width="1.02"/>
<line x1="152.05" y1="387.60" x2="159.55" y2="387.60" stroke="#2a10ff" stroke-width="1.2"/>
<line x1="149.80" y1="374.20" x2="161.80" y2="374.20" stroke="#2a10ff" stroke-width="1.2"/>
<polygon points="151.80,366.06 154.84,359.79 148.76,359.79" fill="none" stroke="#2a10ff" stroke-width="1.6" stroke-linejoin="miter"/>
<polygon points="159.70,371.36 162.74,365.09 156.66,365.09" fill="none" stroke="#2a10ff" stroke-width="1.6" stroke-linejoin="miter"/>
<polygon points="151.60,378.56 154.64,372.29 148.56,372.29" fill="none" stroke="#2a10ff" stroke-width="1.6" stroke-linejoin="miter"/>
<polygon points="159.70,379.86 162.74,373.59 156.66,373.59" fill="none" stroke="#2a10ff" stroke-width="1.6" stroke-linejoin="miter"/>
<polygon points="155.80,412.76 158.84,406.49 152.76,406.49" fill="none" stroke="#2a10ff" stroke-width="1.6" stroke-linejoin="miter"/>
<line x1="177.80" y1="386.60" x2="177.80" y2="379.20" stroke="#000" stroke-width="1.02"/>
<line x1="174.30" y1="379.20" x2="181.30" y2="379.20" stroke="#000" stroke-width="1.2"/>
<line x1="177.80" y1="386.60" x2="177.80" y2="418.20" stroke="#000" stroke-width="1.02"/>
<line x1="174.30" y1="418.20" x2="181.30" y2="418.20" stroke="#000" stroke-width="1.2"/>
<line x1="171.80" y1="386.60" x2="183.80" y2="386.60" stroke="#000" stroke-width="1.2"/>
<path d="M174.48,371.07L181.12,377.72M181.12,371.07L174.48,377.72" stroke="#000" stroke-width="1.8" fill="none"/>
<path d="M178.88,381.98L185.52,388.62M185.52,381.98L178.88,388.62" stroke="#000" stroke-width="1.8" fill="none"/>
<path d="M170.38,383.88L177.02,390.52M177.02,383.88L170.38,390.52" stroke="#000" stroke-width="1.8" fill="none"/>
<path d="M174.48,409.57L181.12,416.22M181.12,409.57L174.48,416.22" stroke="#000" stroke-width="1.8" fill="none"/>
<path d="M174.48,423.57L181.12,430.22M181.12,423.57L174.48,430.22" stroke="#000" stroke-width="1.8" fill="none"/>
<line x1="201.80" y1="355.00" x2="201.80" y2="355.00" stroke="#2a10ff" stroke-width="1.2"/>
<rect x="197.20" y="346.90" width="6.00" height="6.00" fill="#fff" stroke="#2a10ff" stroke-width="1.6"/>
<rect x="201.60" y="350.10" width="6.00" height="6.00" fill="#fff" stroke="#2a10ff" stroke-width="1.6"/>
<rect x="197.40" y="352.80" width="6.00" height="6.00" fill="#fff" stroke="#2a10ff" stroke-width="1.6"/>
<rect x="193.20" y="358.00" width="6.00" height="6.00" fill="#fff" stroke="#2a10ff" stroke-width="1.6"/>
<rect x="201.40" y="357.40" width="6.00" height="6.00" fill="#fff" stroke="#2a10ff" stroke-width="1.6"/>
<line x1="221.80" y1="437.20" x2="221.80" y2="432.40" stroke="#000" stroke-width="1.02"/>
<line x1="218.80" y1="432.40" x2="224.80" y2="432.40" stroke="#000" stroke-width="1.2"/>
<line x1="221.80" y1="437.20" x2="221.80" y2="438.50" stroke="#000" stroke-width="1.02"/>
<line x1="218.80" y1="438.50" x2="224.80" y2="438.50" stroke="#000" stroke-width="1.2"/>
<line x1="215.80" y1="437.20" x2="227.80" y2="437.20" stroke="#000" stroke-width="1.2"/>
<polygon points="218.00,426.75 218.85,429.03 221.28,429.13 219.38,430.65 220.03,432.99 218.00,431.65 215.97,432.99 216.62,430.65 214.72,429.13 217.15,429.03" fill="#000" stroke="none"/>
<polygon points="221.00,431.15 221.85,433.43 224.28,433.53 222.38,435.05 223.03,437.39 221.00,436.05 218.97,437.39 219.62,435.05 217.72,433.53 220.15,433.43" fill="#000" stroke="none"/>
<polygon points="226.70,433.35 227.55,435.63 229.98,435.73 228.08,437.25 228.73,439.59 226.70,438.25 224.67,439.59 225.32,437.25 223.42,435.73 225.85,435.63" fill="#000" stroke="none"/>
<polygon points="218.00,437.25 218.85,439.53 221.28,439.63 219.38,441.15 220.03,443.49 218.00,442.15 215.97,443.49 216.62,441.15 214.72,439.63 217.15,439.53" fill="#000" stroke="none"/>
<polygon points="223.60,437.05 224.45,439.33 226.88,439.43 224.98,440.95 225.63,443.29 223.60,441.95 221.57,443.29 222.22,440.95 220.32,439.43 222.75,439.33" fill="#000" stroke="none"/>
<line x1="243.80" y1="438.00" x2="243.80" y2="438.00" stroke="#000" stroke-width="1.2"/>
<polygon points="240.00,430.44 240.88,432.79 243.39,432.90 241.42,434.46 242.10,436.88 240.00,435.50 237.90,436.88 238.58,434.46 236.61,432.90 239.12,432.79" fill="#000" stroke="none"/>
<polygon points="244.00,428.94 244.88,431.29 247.39,431.40 245.42,432.96 246.10,435.38 244.00,434.00 241.90,435.38 242.58,432.96 240.61,431.40 243.12,431.29" fill="#000" stroke="none"/>
<polygon points="248.50,431.44 249.38,433.79 251.89,433.90 249.92,435.46 250.60,437.88 248.50,436.50 246.40,437.88 247.08,435.46 245.11,433.90 247.62,433.79" fill="#000" stroke="none"/>
<polygon points="241.00,434.44 241.88,436.79 244.39,436.90 242.42,438.46 243.10,440.88 241.00,439.50 238.90,440.88 239.58,438.46 237.61,436.90 240.12,436.79" fill="#000" stroke="none"/>
<polygon points="245.00,433.94 245.88,436.29 248.39,436.40 246.42,437.96 247.10,440.38 245.00,439.00 242.90,440.38 243.58,437.96 241.61,436.40 244.12,436.29" fill="#000" stroke="none"/>
<polygon points="249.50,434.94 250.38,437.29 252.89,437.40 250.92,438.96 251.60,441.38 249.50,440.00 247.40,441.38 248.08,438.96 246.11,437.40 248.62,437.29" fill="#000" stroke="none"/>
<polygon points="239.50,437.94 240.38,440.29 242.89,440.40 240.92,441.96 241.60,444.38 239.50,443.00 237.40,444.38 238.08,441.96 236.11,440.40 238.62,440.29" fill="#000" stroke="none"/>
<polygon points="243.50,437.94 244.38,440.29 246.89,440.40 244.92,441.96 245.60,444.38 243.50,443.00 241.40,444.38 242.08,441.96 240.11,440.40 242.62,440.29" fill="#000" stroke="none"/>
<polygon points="247.50,437.44 248.38,439.79 250.89,439.90 248.92,441.46 249.60,443.88 247.50,442.50 245.40,443.88 246.08,441.46 244.11,439.90 246.62,439.79" fill="#000" stroke="none"/>
<polygon points="242.00,440.44 242.88,442.79 245.39,442.90 243.42,444.46 244.10,446.88 242.00,445.50 239.90,446.88 240.58,444.46 238.61,442.90 241.12,442.79" fill="#000" stroke="none"/>
<polygon points="246.00,439.94 246.88,442.29 249.39,442.40 247.42,443.96 248.10,446.38 246.00,445.00 243.90,446.38 244.58,443.96 242.61,442.40 245.12,442.29" fill="#000" stroke="none"/>
<polygon points="243.80,432.44 244.68,434.79 247.19,434.90 245.22,436.46 245.90,438.88 243.80,437.50 241.70,438.88 242.38,436.46 240.41,434.90 242.92,434.79" fill="#000" stroke="none"/>
<text x="259.70" y="262.00" font-size="10.5" text-anchor="start" font-weight="bold" fill="#000" stroke="#000" stroke-width="0.2" >d</text>
<text x="331.80" y="278.90" font-size="11" text-anchor="start" font-weight="normal" fill="#111" stroke="#111" stroke-width="0.2" >C-term Epitope Protection</text>
<line x1="312.40" y1="289.10" x2="312.40" y2="455.90" stroke="#000" stroke-width="1.5"/>
<line x1="305.40" y1="455.30" x2="477.50" y2="455.30" stroke="#000" stroke-width="1.5"/>
<line x1="305.40" y1="289.70" x2="312.40" y2="289.70" stroke="#000" stroke-width="1.5"/>
<text x="0.00" y="0.00" font-size="9.5" text-anchor="end" font-weight="normal" fill="#111" stroke="#111" stroke-width="0.2" transform="translate(301.80,292.26) scale(0.9,1)" >100</text>
<line x1="305.40" y1="323.10" x2="312.40" y2="323.10" stroke="#000" stroke-width="1.5"/>
<text x="0.00" y="0.00" font-size="9.5" text-anchor="end" font-weight="normal" fill="#111" stroke="#111" stroke-width="0.2" transform="translate(301.80,325.67) scale(0.9,1)" >10</text>
<line x1="305.40" y1="356.40" x2="312.40" y2="356.40" stroke="#000" stroke-width="1.5"/>
<text x="0.00" y="0.00" font-size="9.5" text-anchor="end" font-weight="normal" fill="#111" stroke="#111" stroke-width="0.2" transform="translate(301.80,358.96) scale(0.9,1)" >1</text>
<line x1="305.40" y1="389.70" x2="312.40" y2="389.70" stroke="#000" stroke-width="1.5"/>
<text x="0.00" y="0.00" font-size="9.5" text-anchor="end" font-weight="normal" fill="#111" stroke="#111" stroke-width="0.2" transform="translate(301.80,392.26) scale(0.9,1)" >0.1</text>
<line x1="305.40" y1="422.70" x2="312.40" y2="422.70" stroke="#000" stroke-width="1.5"/>
<text x="0.00" y="0.00" font-size="9.5" text-anchor="end" font-weight="normal" fill="#111" stroke="#111" stroke-width="0.2" transform="translate(301.80,425.26) scale(0.9,1)" >0.01</text>
<line x1="305.40" y1="455.30" x2="312.40" y2="455.30" stroke="#000" stroke-width="1.5"/>
<text x="0.00" y="0.00" font-size="9.5" text-anchor="end" font-weight="normal" fill="#111" stroke="#111" stroke-width="0.2" transform="translate(301.80,457.87) scale(0.9,1)" >0.001</text>
<line x1="329.60" y1="455.30" x2="329.60" y2="462.30" stroke="#000" stroke-width="1.5"/>
<text x="0.00" y="0.00" font-size="9.2" text-anchor="end" font-weight="normal" fill="#111" stroke="#111" stroke-width="0.2" transform="translate(331.60,471.30) rotate(-45)" >Adjuvant Only</text>
<line x1="355.80" y1="455.30" x2="355.80" y2="462.30" stroke="#000" stroke-width="1.5"/>
<text x="0.00" y="0.00" font-size="9.2" text-anchor="end" font-weight="normal" fill="#111" stroke="#111" stroke-width="0.2" transform="translate(357.80,471.30) rotate(-45)" >aTSR_WT 24mer</text>
<line x1="382.00" y1="455.30" x2="382.00" y2="462.30" stroke="#000" stroke-width="1.5"/>
<text x="0.00" y="0.00" font-size="9.2" text-anchor="end" font-weight="normal" fill="#111" stroke="#111" stroke-width="0.2" transform="translate(384.00,471.30) rotate(-45)" >aTSR_WT 60mer</text>
<line x1="408.00" y1="455.30" x2="408.00" y2="462.30" stroke="#000" stroke-width="1.5"/>
<text x="0.00" y="0.00" font-size="9.2" text-anchor="end" font-weight="normal" fill="#111" stroke="#111" stroke-width="0.2" transform="translate(410.00,471.30) rotate(-45)" >aTSR_MD1 24mer</text>
<line x1="433.90" y1="455.30" x2="433.90" y2="462.30" stroke="#000" stroke-width="1.5"/>
<text x="0.00" y="0.00" font-size="9.2" text-anchor="end" font-weight="normal" fill="#111" stroke="#111" stroke-width="0.2" transform="translate(435.90,471.30) rotate(-45)" >aTSR_MD1 60mer</text>
<line x1="460.10" y1="455.30" x2="460.10" y2="462.30" stroke="#000" stroke-width="1.5"/>
<text x="0.00" y="0.00" font-size="9.2" text-anchor="end" font-weight="normal" fill="#111" stroke="#111" stroke-width="0.2" transform="translate(462.10,471.30) rotate(-45)" >311 (sterilizing)</text>
<text x="0.00" y="0.00" font-size="8.6" text-anchor="middle" font-weight="normal" fill="#111" stroke="#111" stroke-width="0.2" transform="translate(272.60,373.30) rotate(-90)" >Flux [p/s] normalized</text>
<text x="0.00" y="0.00" font-size="8.6" text-anchor="middle" font-weight="normal" fill="#111" stroke="#111" stroke-width="0.2" transform="translate(282.50,373.30) rotate(-90)" >to Adjuvant Only</text>
<line x1="329.80" y1="355.70" x2="329.80" y2="350.50" stroke="#000" stroke-width="1.02"/>
<line x1="326.30" y1="350.50" x2="333.30" y2="350.50" stroke="#000" stroke-width="1.2"/>
<line x1="329.80" y1="355.70" x2="329.80" y2="365.20" stroke="#000" stroke-width="1.02"/>
<line x1="326.30" y1="365.20" x2="333.30" y2="365.20" stroke="#000" stroke-width="1.2"/>
<line x1="322.80" y1="355.70" x2="336.80" y2="355.70" stroke="#000" stroke-width="1.2"/>
<circle cx="324.20" cy="350.50" r="3.20" fill="#000" stroke="#000" stroke-width="0.5"/>
<circle cx="335.00" cy="355.70" r="3.20" fill="#000" stroke="#000" stroke-width="0.5"/>
<circle cx="329.80" cy="364.80" r="3.20" fill="#000" stroke="#000" stroke-width="0.5"/>
<line x1="355.70" y1="364.00" x2="355.70" y2="355.70" stroke="#ff2a14" stroke-width="1.02"/>
<line x1="352.20" y1="355.70" x2="359.20" y2="355.70" stroke="#ff2a14" stroke-width="1.2"/>
<line x1="355.70" y1="364.00" x2="355.70" y2="375.30" stroke="#ff2a14" stroke-width="1.02"/>
<line x1="352.20" y1="375.30" x2="359.20" y2="375.30" stroke="#ff2a14" stroke-width="1.2"/>
<line x1="348.70" y1="364.00" x2="362.70" y2="364.00" stroke="#ff2a14" stroke-width="1.2"/>
<rect x="352.60" y="348.60" width="6.20" height="6.20" fill="#fff" stroke="#ff2a14" stroke-width="1.7"/>
<rect x="358.20" y="356.50" width="6.20" height="6.20" fill="#fff" stroke="#ff2a14" stroke-width="1.7"/>
<rect x="346.80" y="360.90" width="6.20" height="6.20" fill="#fff" stroke="#ff2a14" stroke-width="1.7"/>
<rect x="352.60" y="368.70" width="6.20" height="6.20" fill="#fff" stroke="#ff2a14" stroke-width="1.7"/>
<rect x="352.60" y="376.60" width="6.20" height="6.20" fill="#fff" stroke="#ff2a14" stroke-width="1.7"/>
<line x1="382.00" y1="361.30" x2="382.00" y2="356.00" stroke="#2a10ff" stroke-width="1.02"/>
<line x1="378.50" y1="356.00" x2="385.50" y2="356.00" stroke="#2a10ff" stroke-width="1.2"/>
<line x1="382.00" y1="361.30" x2="382.00" y2="368.00" stroke="#2a10ff" stroke-width="1.02"/>
<line x1="378.50" y1="368.00" x2="385.50" y2="368.00" stroke="#2a10ff" stroke-width="1.2"/>
<line x1="375.00" y1="361.30" x2="389.00" y2="361.30" stroke="#2a10ff" stroke-width="1.2"/>
<rect x="384.10" y="348.10" width="6.20" height="6.20" fill="#2a10ff" stroke="#2a10ff" stroke-width="0.5"/>
<rect x="373.60" y="353.80" width="6.20" height="6.20" fill="#2a10ff" stroke="#2a10ff" stroke-width="0.5"/>
<rect x="373.60" y="359.10" width="6.20" height="6.20" fill="#2a10ff" stroke="#2a10ff" stroke-width="0.5"/>
<rect x="384.10" y="363.50" width="6.20" height="6.20" fill="#2a10ff" stroke="#2a10ff" stroke-width="0.5"/>
<rect x="373.60" y="369.10" width="6.20" height="6.20" fill="#2a10ff" stroke="#2a10ff" stroke-width="0.5"/>
<line x1="408.30" y1="357.80" x2="408.30" y2="354.30" stroke="#ff2a14" stroke-width="1.02"/>
<line x1="404.80" y1="354.30" x2="411.80" y2="354.30" stroke="#ff2a14" stroke-width="1.2"/>
<line x1="408.30" y1="357.80" x2="408.30" y2="376.20" stroke="#ff2a14" stroke-width="1.02"/>
<line x1="404.80" y1="376.20" x2="411.80" y2="376.20" stroke="#ff2a14" stroke-width="1.2"/>
<line x1="401.30" y1="357.80" x2="415.30" y2="357.80" stroke="#ff2a14" stroke-width="1.2"/>
<polygon points="403.00,351.94 406.04,358.21 399.96,358.21" fill="none" stroke="#ff2a14" stroke-width="1.6" stroke-linejoin="miter"/>
<polygon points="413.90,347.94 416.94,354.21 410.86,354.21" fill="none" stroke="#ff2a14" stroke-width="1.6" stroke-linejoin="miter"/>
<polygon points="413.90,354.94 416.94,361.21 410.86,361.21" fill="none" stroke="#ff2a14" stroke-width="1.6" stroke-linejoin="miter"/>
<polygon points="408.30,356.64 411.34,362.91 405.26,362.91" fill="none" stroke="#ff2a14" stroke-width="1.6" stroke-linejoin="miter"/>
<polygon points="408.30,369.84 411.34,376.11 405.26,376.11" fill="none" stroke="#ff2a14" stroke-width="1.6" stroke-linejoin="miter"/>
<polygon points="408.30,389.14 411.34,395.41 405.26,395.41" fill="none" stroke="#ff2a14" stroke-width="1.6" stroke-linejoin="miter"/>
<line x1="433.30" y1="358.90" x2="433.30" y2="319.30" stroke="#2a10ff" stroke-width="1.02"/>
<line x1="429.20" y1="319.30" x2="437.40" y2="319.30" stroke="#2a10ff" stroke-width="1.2"/>
<line x1="433.30" y1="358.90" x2="433.30" y2="370.10" stroke="#2a10ff" stroke-width="1.02"/>
<line x1="429.20" y1="370.10" x2="437.40" y2="370.10" stroke="#2a10ff" stroke-width="1.2"/>
<line x1="424.55" y1="358.90" x2="442.05" y2="358.90" stroke="#2a10ff" stroke-width="1.2"/>
<polygon points="434.30,315.38 438.00,322.41 430.60,322.41" fill="#2a10ff" stroke="#2a10ff" stroke-width="0.5" stroke-linejoin="miter"/>
<polygon points="434.30,354.88 438.00,361.91 430.60,361.91" fill="#2a10ff" stroke="#2a10ff" stroke-width="0.5" stroke-linejoin="miter"/>
<polygon points="434.30,366.58 438.00,373.61 430.60,373.61" fill="#2a10ff" stroke="#2a10ff" stroke-width="0.5" stroke-linejoin="miter"/>
<line x1="451.80" y1="427.60" x2="468.60" y2="427.60" stroke="#000" stroke-width="1.2"/>
<polygon points="454.70,424.45 455.55,426.73 457.98,426.83 456.08,428.35 456.73,430.69 454.70,429.35 452.67,430.69 453.32,428.35 451.42,426.83 453.85,426.73" fill="#000" stroke="none"/>
<polygon points="457.50,424.45 458.35,426.73 460.78,426.83 458.88,428.35 459.53,430.69 457.50,429.35 455.47,430.69 456.12,428.35 454.22,426.83 456.65,426.73" fill="#000" stroke="none"/>
<polygon points="460.30,424.45 461.15,426.73 463.58,426.83 461.68,428.35 462.33,430.69 460.30,429.35 458.27,430.69 458.92,428.35 457.02,426.83 459.45,426.73" fill="#000" stroke="none"/>
<polygon points="462.90,424.45 463.75,426.73 466.18,426.83 464.28,428.35 464.93,430.69 462.90,429.35 460.87,430.69 461.52,428.35 459.62,426.83 462.05,426.73" fill="#000" stroke="none"/>
<polygon points="466.00,428.45 466.85,430.73 469.28,430.83 467.38,432.35 468.03,434.69 466.00,433.35 463.97,434.69 464.62,432.35 462.72,430.83 465.15,430.73" fill="#000" stroke="none"/>
<text x="482.00" y="262.00" font-size="10.5" text-anchor="start" font-weight="bold" fill="#000" stroke="#000" stroke-width="0.2" >e</text>
<text x="551.40" y="278.90" font-size="11" text-anchor="start" font-weight="normal" fill="#111" stroke="#111" stroke-width="0.2" >C-term Epitope Protection</text>
<line x1="534.90" y1="289.10" x2="534.90" y2="456.40" stroke="#000" stroke-width="1.5"/>
<line x1="527.90" y1="455.80" x2="684.00" y2="455.80" stroke="#000" stroke-width="1.5"/>
<line x1="527.90" y1="289.70" x2="534.90" y2="289.70" stroke="#000" stroke-width="1.5"/>
<text x="0.00" y="0.00" font-size="9.5" text-anchor="end" font-weight="normal" fill="#111" stroke="#111" stroke-width="0.2" transform="translate(524.30,292.26) scale(0.9,1)" >10</text>
<line x1="527.90" y1="344.90" x2="534.90" y2="344.90" stroke="#000" stroke-width="1.5"/>
<text x="0.00" y="0.00" font-size="9.5" text-anchor="end" font-weight="normal" fill="#111" stroke="#111" stroke-width="0.2" transform="translate(524.30,347.46) scale(0.9,1)" >1</text>
<line x1="527.90" y1="400.90" x2="534.90" y2="400.90" stroke="#000" stroke-width="1.5"/>
<text x="0.00" y="0.00" font-size="9.5" text-anchor="end" font-weight="normal" fill="#111" stroke="#111" stroke-width="0.2" transform="translate(524.30,403.46) scale(0.9,1)" >0.1</text>
<line x1="527.90" y1="455.80" x2="534.90" y2="455.80" stroke="#000" stroke-width="1.5"/>
<text x="0.00" y="0.00" font-size="9.5" text-anchor="end" font-weight="normal" fill="#111" stroke="#111" stroke-width="0.2" transform="translate(524.30,458.37) scale(0.9,1)" >0.01</text>
<line x1="557.60" y1="455.80" x2="557.60" y2="462.80" stroke="#000" stroke-width="1.5"/>
<text x="0.00" y="0.00" font-size="9.2" text-anchor="end" font-weight="normal" fill="#111" stroke="#111" stroke-width="0.2" transform="translate(559.60,471.10) rotate(-45)" >Adjuvant Only</text>
<line x1="591.90" y1="455.80" x2="591.90" y2="462.80" stroke="#000" stroke-width="1.5"/>
<text x="0.00" y="0.00" font-size="9.2" text-anchor="end" font-weight="normal" fill="#111" stroke="#111" stroke-width="0.2" transform="translate(593.90,471.10) rotate(-45)" >Monomer CSP</text>
<line x1="626.20" y1="455.80" x2="626.20" y2="462.80" stroke="#000" stroke-width="1.5"/>
<text x="0.00" y="0.00" font-size="9.2" text-anchor="end" font-weight="normal" fill="#111" stroke="#111" stroke-width="0.2" transform="translate(628.20,471.10) rotate(-45)" >aTSR_WT 24mer</text>
<line x1="660.60" y1="455.80" x2="660.60" y2="462.80" stroke="#000" stroke-width="1.5"/>
<text x="0.00" y="0.00" font-size="8.6" text-anchor="middle" font-weight="normal" fill="#111" stroke="#111" stroke-width="0.2" transform="translate(493.30,372.50) rotate(-90)" >Flux [p/s] normalized</text>
<text x="0.00" y="0.00" font-size="8.6" text-anchor="middle" font-weight="normal" fill="#111" stroke="#111" stroke-width="0.2" transform="translate(502.90,371.60) rotate(-90)" >to Adjuvant Only</text>
<text x="0.00" y="0.00" font-size="10.2" text-anchor="end" font-weight="normal" fill="#111" stroke="#111" stroke-width="0.2" transform="translate(663.20,471.10) rotate(-45)" style="font-family:'Liberation Serif',serif">aTSR_WT 60mer</text>
<path d="M557.50,295.50V292.50H592.50V295.50" stroke="#1a1a1a" stroke-width="1.2" fill="none"/>
<text x="574.70" y="294.38" font-size="10.5" text-anchor="middle" font-weight="normal" fill="#222" stroke="#222" stroke-width="0.2" >**</text>
<text x="592.20" y="308.60" font-size="10.2" text-anchor="middle" font-weight="normal" fill="#111" stroke="#111" stroke-width="0.2" >96%</text>
<text x="626.10" y="308.60" font-size="10.2" text-anchor="middle" font-weight="normal" fill="#111" stroke="#111" stroke-width="0.2" >30%</text>
<text x="659.10" y="308.60" font-size="10.2" text-anchor="middle" font-weight="normal" fill="#111" stroke="#111" stroke-width="0.2" >30%</text>
<line x1="557.40" y1="342.70" x2="557.40" y2="327.70" stroke="#000" stroke-width="1.02"/>
<line x1="551.65" y1="327.70" x2="563.15" y2="327.70" stroke="#000" stroke-width="1.2"/>
<line x1="557.40" y1="342.70" x2="557.40" y2="365.80" stroke="#000" stroke-width="1.02"/>
<line x1="551.65" y1="365.80" x2="563.15" y2="365.80" stroke="#000" stroke-width="1.2"/>
<line x1="546.40" y1="342.70" x2="568.40" y2="342.70" stroke="#000" stroke-width="1.2"/>
<circle cx="553.40" cy="318.90" r="3.20" fill="#000" stroke="#000" stroke-width="0.5"/>
<circle cx="561.40" cy="318.90" r="3.20" fill="#000" stroke="#000" stroke-width="0.5"/>
<circle cx="557.30" cy="331.80" r="3.20" fill="#000" stroke="#000" stroke-width="0.5"/>
<circle cx="549.20" cy="341.70" r="3.20" fill="#000" stroke="#000" stroke-width="0.5"/>
<circle cx="565.70" cy="340.50" r="3.20" fill="#000" stroke="#000" stroke-width="0.5"/>
<circle cx="557.30" cy="344.60" r="3.20" fill="#000" stroke="#000" stroke-width="0.5"/>
<circle cx="557.30" cy="353.60" r="3.20" fill="#000" stroke="#000" stroke-width="0.5"/>
<circle cx="557.30" cy="365.00" r="3.20" fill="#000" stroke="#000" stroke-width="0.5"/>
<circle cx="565.70" cy="368.70" r="3.20" fill="#000" stroke="#000" stroke-width="0.5"/>
<circle cx="549.20" cy="372.30" r="3.20" fill="#000" stroke="#000" stroke-width="0.5"/>
<line x1="591.60" y1="397.90" x2="591.60" y2="377.40" stroke="#000" stroke-width="1.02"/>
<line x1="585.60" y1="377.40" x2="597.60" y2="377.40" stroke="#000" stroke-width="1.2"/>
<line x1="591.60" y1="397.90" x2="591.60" y2="406.00" stroke="#000" stroke-width="1.02"/>
<line x1="585.60" y1="406.00" x2="597.60" y2="406.00" stroke="#000" stroke-width="1.2"/>
<line x1="582.10" y1="397.90" x2="601.10" y2="397.90" stroke="#000" stroke-width="1.2"/>
<circle cx="591.60" cy="337.30" r="3.35" fill="none" stroke="#000" stroke-width="1.6"/>
<circle cx="591.60" cy="365.00" r="3.35" fill="none" stroke="#000" stroke-width="1.6"/>
<circle cx="589.30" cy="383.70" r="3.35" fill="none" stroke="#000" stroke-width="1.6"/>
<circle cx="594.90" cy="383.70" r="3.35" fill="none" stroke="#000" stroke-width="1.6"/>
<circle cx="589.30" cy="396.00" r="3.35" fill="none" stroke="#000" stroke-width="1.6"/>
<circle cx="583.20" cy="398.90" r="3.35" fill="none" stroke="#000" stroke-width="1.6"/>
<circle cx="589.30" cy="403.00" r="3.35" fill="none" stroke="#000" stroke-width="1.6"/>
<circle cx="594.90" cy="403.00" r="3.35" fill="none" stroke="#000" stroke-width="1.6"/>
<circle cx="600.00" cy="404.20" r="3.35" fill="none" stroke="#000" stroke-width="1.6"/>
<circle cx="591.60" cy="412.90" r="3.35" fill="none" stroke="#000" stroke-width="1.6"/>
<line x1="626.00" y1="342.20" x2="626.00" y2="336.20" stroke="#ff2a14" stroke-width="1.02"/>
<line x1="623.00" y1="336.20" x2="629.00" y2="336.20" stroke="#ff2a14" stroke-width="1.2"/>
<line x1="626.00" y1="342.20" x2="626.00" y2="377.20" stroke="#ff2a14" stroke-width="1.02"/>
<line x1="623.00" y1="377.20" x2="629.00" y2="377.20" stroke="#ff2a14" stroke-width="1.2"/>
<line x1="615.00" y1="342.20" x2="637.00" y2="342.20" stroke="#ff2a14" stroke-width="1.2"/>
<rect x="622.80" y="317.40" width="6.40" height="6.40" fill="#fff" stroke="#ff2a14" stroke-width="1.8"/>
<rect x="630.80" y="327.40" width="6.40" height="6.40" fill="#fff" stroke="#ff2a14" stroke-width="1.8"/>
<rect x="614.50" y="330.90" width="6.40" height="6.40" fill="#fff" stroke="#ff2a14" stroke-width="1.8"/>
<rect x="622.80" y="330.50" width="6.40" height="6.40" fill="#fff" stroke="#ff2a14" stroke-width="1.8"/>
<rect x="630.80" y="336.80" width="6.40" height="6.40" fill="#fff" stroke="#ff2a14" stroke-width="1.8"/>
<rect x="622.80" y="342.00" width="6.40" height="6.40" fill="#fff" stroke="#ff2a14" stroke-width="1.8"/>
<rect x="626.80" y="368.60" width="6.40" height="6.40" fill="#fff" stroke="#ff2a14" stroke-width="1.8"/>
<rect x="618.60" y="371.70" width="6.40" height="6.40" fill="#fff" stroke="#ff2a14" stroke-width="1.8"/>
<rect x="626.80" y="383.60" width="6.40" height="6.40" fill="#fff" stroke="#ff2a14" stroke-width="1.8"/>
<rect x="618.60" y="386.70" width="6.40" height="6.40" fill="#fff" stroke="#ff2a14" stroke-width="1.8"/>
<line x1="660.50" y1="343.00" x2="660.50" y2="340.00" stroke="#2a10ff" stroke-width="1.02"/>
<line x1="655.00" y1="340.00" x2="666.00" y2="340.00" stroke="#2a10ff" stroke-width="1.2"/>
<line x1="660.50" y1="343.00" x2="660.50" y2="362.20" stroke="#2a10ff" stroke-width="1.02"/>
<line x1="655.00" y1="362.20" x2="666.00" y2="362.20" stroke="#2a10ff" stroke-width="1.2"/>
<line x1="649.50" y1="343.00" x2="671.50" y2="343.00" stroke="#2a10ff" stroke-width="1.2"/>
<rect x="654.40" y="333.10" width="6.20" height="6.20" fill="#2a10ff" stroke="#2a10ff" stroke-width="0.5"/>
<rect x="660.40" y="333.10" width="6.20" height="6.20" fill="#2a10ff" stroke="#2a10ff" stroke-width="0.5"/>
<rect x="659.90" y="342.90" width="6.20" height="6.20" fill="#2a10ff" stroke="#2a10ff" stroke-width="0.5"/>
<rect x="665.40" y="342.90" width="6.20" height="6.20" fill="#2a10ff" stroke="#2a10ff" stroke-width="0.5"/>
<rect x="648.90" y="347.90" width="6.20" height="6.20" fill="#2a10ff" stroke="#2a10ff" stroke-width="0.5"/>
<rect x="654.90" y="348.90" width="6.20" height="6.20" fill="#2a10ff" stroke="#2a10ff" stroke-width="0.5"/>
<rect x="660.90" y="349.90" width="6.20" height="6.20" fill="#2a10ff" stroke="#2a10ff" stroke-width="0.5"/>
<rect x="654.40" y="356.90" width="6.20" height="6.20" fill="#2a10ff" stroke="#2a10ff" stroke-width="0.5"/>
<rect x="657.40" y="368.10" width="6.20" height="6.20" fill="#2a10ff" stroke="#2a10ff" stroke-width="0.5"/>
<rect x="657.40" y="374.90" width="6.20" height="6.20" fill="#2a10ff" stroke="#2a10ff" stroke-width="0.5"/>
<text x="1.90" y="539.30" font-size="10.5" text-anchor="start" font-weight="bold" fill="#000" stroke="#000" stroke-width="0.2" >f</text>
<text x="178.20" y="546.80" font-size="11" text-anchor="middle" font-weight="normal" fill="#111" stroke="#111" stroke-width="0.2" >N-term Epitope Protection</text>
<line x1="53.10" y1="575.50" x2="53.10" y2="742.70" stroke="#000" stroke-width="1.5"/>
<line x1="46.10" y1="742.10" x2="302.50" y2="742.10" stroke="#000" stroke-width="1.5"/>
<line x1="46.10" y1="576.10" x2="53.10" y2="576.10" stroke="#000" stroke-width="1.5"/>
<text x="0.00" y="0.00" font-size="9.5" text-anchor="end" font-weight="normal" fill="#111" stroke="#111" stroke-width="0.2" transform="translate(42.50,578.67) scale(0.9,1)" >10</text>
<line x1="46.10" y1="631.10" x2="53.10" y2="631.10" stroke="#000" stroke-width="1.5"/>
<text x="0.00" y="0.00" font-size="9.5" text-anchor="end" font-weight="normal" fill="#111" stroke="#111" stroke-width="0.2" transform="translate(42.50,633.67) scale(0.9,1)" >1</text>
<line x1="46.10" y1="686.40" x2="53.10" y2="686.40" stroke="#000" stroke-width="1.5"/>
<text x="0.00" y="0.00" font-size="9.5" text-anchor="end" font-weight="normal" fill="#111" stroke="#111" stroke-width="0.2" transform="translate(42.50,688.97) scale(0.9,1)" >0.1</text>
<line x1="46.10" y1="742.10" x2="53.10" y2="742.10" stroke="#000" stroke-width="1.5"/>
<text x="0.00" y="0.00" font-size="9.5" text-anchor="end" font-weight="normal" fill="#111" stroke="#111" stroke-width="0.2" transform="translate(42.50,744.67) scale(0.9,1)" >0.01</text>
<line x1="67.40" y1="742.10" x2="67.40" y2="749.10" stroke="#000" stroke-width="1.5"/>
<text x="0.00" y="0.00" font-size="9.2" text-anchor="end" font-weight="normal" fill="#111" stroke="#111" stroke-width="0.2" transform="translate(69.40,758.40) rotate(-45)" >Adjuvant Only</text>
<line x1="89.50" y1="742.10" x2="89.50" y2="749.10" stroke="#000" stroke-width="1.5"/>
<text x="0.00" y="0.00" font-size="9.2" text-anchor="end" font-weight="normal" fill="#111" stroke="#111" stroke-width="0.2" transform="translate(91.50,758.40) rotate(-45)" >Monomer CSP</text>
<line x1="111.50" y1="742.10" x2="111.50" y2="749.10" stroke="#000" stroke-width="1.5"/>
<text x="0.00" y="0.00" font-size="9.2" text-anchor="end" font-weight="normal" fill="#111" stroke="#111" stroke-width="0.2" transform="translate(113.50,758.40) rotate(-45)" >P1 24mer</text>
<line x1="133.70" y1="742.10" x2="133.70" y2="749.10" stroke="#000" stroke-width="1.5"/>
<text x="0.00" y="0.00" font-size="9.2" text-anchor="end" font-weight="normal" fill="#111" stroke="#111" stroke-width="0.2" transform="translate(135.70,758.40) rotate(-45)" >P1 60mer</text>
<line x1="155.80" y1="742.10" x2="155.80" y2="749.10" stroke="#000" stroke-width="1.5"/>
<text x="0.00" y="0.00" font-size="9.2" text-anchor="end" font-weight="normal" fill="#111" stroke="#111" stroke-width="0.2" transform="translate(157.80,758.40) rotate(-45)" >P2 24mer</text>
<line x1="177.70" y1="742.10" x2="177.70" y2="749.10" stroke="#000" stroke-width="1.5"/>
<text x="0.00" y="0.00" font-size="9.2" text-anchor="end" font-weight="normal" fill="#111" stroke="#111" stroke-width="0.2" transform="translate(179.70,758.40) rotate(-45)" >P2 60mer</text>
<line x1="199.60" y1="742.10" x2="199.60" y2="749.10" stroke="#000" stroke-width="1.5"/>
<text x="0.00" y="0.00" font-size="9.2" text-anchor="end" font-weight="normal" fill="#111" stroke="#111" stroke-width="0.2" transform="translate(201.60,758.40) rotate(-45)" >P8 24mer</text>
<line x1="221.50" y1="742.10" x2="221.50" y2="749.10" stroke="#000" stroke-width="1.5"/>
<text x="0.00" y="0.00" font-size="9.2" text-anchor="end" font-weight="normal" fill="#111" stroke="#111" stroke-width="0.2" transform="translate(223.50,758.40) rotate(-45)" >P8 60mer</text>
<line x1="243.80" y1="742.10" x2="243.80" y2="749.10" stroke="#000" stroke-width="1.5"/>
<text x="0.00" y="0.00" font-size="9.2" text-anchor="end" font-weight="normal" fill="#111" stroke="#111" stroke-width="0.2" transform="translate(245.80,758.40) rotate(-45)" >P9 24mer</text>
<line x1="265.70" y1="742.10" x2="265.70" y2="749.10" stroke="#000" stroke-width="1.5"/>
<text x="0.00" y="0.00" font-size="9.2" text-anchor="end" font-weight="normal" fill="#111" stroke="#111" stroke-width="0.2" transform="translate(267.70,758.40) rotate(-45)" >P9 60mer</text>
<line x1="287.60" y1="742.10" x2="287.60" y2="749.10" stroke="#000" stroke-width="1.5"/>
<text x="0.00" y="0.00" font-size="9.2" text-anchor="end" font-weight="normal" fill="#111" stroke="#111" stroke-width="0.2" transform="translate(289.60,758.40) rotate(-45)" >P15 24mer</text>
<text x="0.00" y="0.00" font-size="8.6" text-anchor="middle" font-weight="normal" fill="#111" stroke="#111" stroke-width="0.2" transform="translate(14.35,653.70) rotate(-90)" >Flux [p/s] normalized</text>
<text x="0.00" y="0.00" font-size="8.6" text-anchor="middle" font-weight="normal" fill="#111" stroke="#111" stroke-width="0.2" transform="translate(25.05,653.70) rotate(-90)" >to Adjuvant Only</text>
<line x1="59.85" y1="626.80" x2="75.35" y2="626.80" stroke="#2a1cff" stroke-width="1.2"/>
<circle cx="67.10" cy="591.40" r="3.20" fill="#2a1cff" stroke="#2a1cff" stroke-width="0.5"/>
<circle cx="66.50" cy="607.00" r="3.20" fill="#2a1cff" stroke="#2a1cff" stroke-width="0.5"/>
<circle cx="69.50" cy="609.00" r="3.20" fill="#2a1cff" stroke="#2a1cff" stroke-width="0.5"/>
<circle cx="66.00" cy="611.00" r="3.20" fill="#2a1cff" stroke="#2a1cff" stroke-width="0.5"/>
<circle cx="64.00" cy="616.00" r="3.20" fill="#2a1cff" stroke="#2a1cff" stroke-width="0.5"/>
<circle cx="70.00" cy="616.00" r="3.20" fill="#2a1cff" stroke="#2a1cff" stroke-width="0.5"/>
<circle cx="63.50" cy="620.00" r="3.20" fill="#2a1cff" stroke="#2a1cff" stroke-width="0.5"/>
<circle cx="69.00" cy="619.50" r="3.20" fill="#2a1cff" stroke="#2a1cff" stroke-width="0.5"/>
<circle cx="72.00" cy="622.00" r="3.20" fill="#2a1cff" stroke="#2a1cff" stroke-width="0.5"/>
<circle cx="64.00" cy="623.50" r="3.20" fill="#2a1cff" stroke="#2a1cff" stroke-width="0.5"/>
<circle cx="68.00" cy="624.00" r="3.20" fill="#2a1cff" stroke="#2a1cff" stroke-width="0.5"/>
<circle cx="71.50" cy="626.00" r="3.20" fill="#2a1cff" stroke="#2a1cff" stroke-width="0.5"/>
<circle cx="64.00" cy="627.00" r="3.20" fill="#2a1cff" stroke="#2a1cff" stroke-width="0.5"/>
<circle cx="66.00" cy="630.50" r="3.20" fill="#2a1cff" stroke="#2a1cff" stroke-width="0.5"/>
<circle cx="69.00" cy="632.00" r="3.20" fill="#2a1cff" stroke="#2a1cff" stroke-width="0.5"/>
<circle cx="65.50" cy="635.00" r="3.20" fill="#2a1cff" stroke="#2a1cff" stroke-width="0.5"/>
<circle cx="68.50" cy="637.50" r="3.20" fill="#2a1cff" stroke="#2a1cff" stroke-width="0.5"/>
<circle cx="65.50" cy="640.00" r="3.20" fill="#2a1cff" stroke="#2a1cff" stroke-width="0.5"/>
<circle cx="68.50" cy="643.00" r="3.20" fill="#2a1cff" stroke="#2a1cff" stroke-width="0.5"/>
<circle cx="66.00" cy="645.50" r="3.20" fill="#2a1cff" stroke="#2a1cff" stroke-width="0.5"/>
<circle cx="68.00" cy="648.50" r="3.20" fill="#2a1cff" stroke="#2a1cff" stroke-width="0.5"/>
<circle cx="66.00" cy="657.50" r="3.20" fill="#2a1cff" stroke="#2a1cff" stroke-width="0.5"/>
<circle cx="69.50" cy="658.00" r="3.20" fill="#2a1cff" stroke="#2a1cff" stroke-width="0.5"/>
<circle cx="65.50" cy="662.00" r="3.20" fill="#2a1cff" stroke="#2a1cff" stroke-width="0.5"/>
<circle cx="68.00" cy="664.00" r="3.20" fill="#2a1cff" stroke="#2a1cff" stroke-width="0.5"/>
<circle cx="67.00" cy="669.50" r="3.20" fill="#2a1cff" stroke="#2a1cff" stroke-width="0.5"/>
<line x1="81.95" y1="689.30" x2="97.45" y2="689.30" stroke="#ff2a14" stroke-width="1.2"/>
<circle cx="90.30" cy="644.30" r="3.20" fill="#ff2a14" stroke="#ff2a14" stroke-width="0.5"/>
<circle cx="89.80" cy="650.80" r="3.20" fill="#ff2a14" stroke="#ff2a14" stroke-width="0.5"/>
<circle cx="90.50" cy="659.00" r="3.20" fill="#ff2a14" stroke="#ff2a14" stroke-width="0.5"/>
<circle cx="89.30" cy="662.50" r="3.20" fill="#ff2a14" stroke="#ff2a14" stroke-width="0.5"/>
<circle cx="88.80" cy="667.00" r="3.20" fill="#ff2a14" stroke="#ff2a14" stroke-width="0.5"/>
<circle cx="90.50" cy="670.50" r="3.20" fill="#ff2a14" stroke="#ff2a14" stroke-width="0.5"/>
<circle cx="89.50" cy="674.00" r="3.20" fill="#ff2a14" stroke="#ff2a14" stroke-width="0.5"/>
<circle cx="89.80" cy="678.00" r="3.20" fill="#ff2a14" stroke="#ff2a14" stroke-width="0.5"/>
<circle cx="92.50" cy="684.50" r="3.20" fill="#ff2a14" stroke="#ff2a14" stroke-width="0.5"/>
<circle cx="88.50" cy="687.50" r="3.20" fill="#ff2a14" stroke="#ff2a14" stroke-width="0.5"/>
<circle cx="85.50" cy="690.00" r="3.20" fill="#ff2a14" stroke="#ff2a14" stroke-width="0.5"/>
<circle cx="91.00" cy="690.00" r="3.20" fill="#ff2a14" stroke="#ff2a14" stroke-width="0.5"/>
<circle cx="94.50" cy="691.00" r="3.20" fill="#ff2a14" stroke="#ff2a14" stroke-width="0.5"/>
<circle cx="84.50" cy="694.50" r="3.20" fill="#ff2a14" stroke="#ff2a14" stroke-width="0.5"/>
<circle cx="88.50" cy="694.00" r="3.20" fill="#ff2a14" stroke="#ff2a14" stroke-width="0.5"/>
<circle cx="92.50" cy="694.50" r="3.20" fill="#ff2a14" stroke="#ff2a14" stroke-width="0.5"/>
<circle cx="95.00" cy="695.50" r="3.20" fill="#ff2a14" stroke="#ff2a14" stroke-width="0.5"/>
<circle cx="86.50" cy="698.00" r="3.20" fill="#ff2a14" stroke="#ff2a14" stroke-width="0.5"/>
<circle cx="90.50" cy="698.00" r="3.20" fill="#ff2a14" stroke="#ff2a14" stroke-width="0.5"/>
<circle cx="93.50" cy="698.50" r="3.20" fill="#ff2a14" stroke="#ff2a14" stroke-width="0.5"/>
<circle cx="90.50" cy="706.00" r="3.20" fill="#ff2a14" stroke="#ff2a14" stroke-width="0.5"/>
<circle cx="88.50" cy="710.50" r="3.20" fill="#ff2a14" stroke="#ff2a14" stroke-width="0.5"/>
<line x1="111.50" y1="640.30" x2="111.50" y2="620.00" stroke="#55e22b" stroke-width="1.02"/>
<line x1="108.00" y1="620.00" x2="115.00" y2="620.00" stroke="#55e22b" stroke-width="1.2"/>
<line x1="111.50" y1="640.30" x2="111.50" y2="670.00" stroke="#55e22b" stroke-width="1.02"/>
<line x1="108.00" y1="670.00" x2="115.00" y2="670.00" stroke="#55e22b" stroke-width="1.2"/>
<line x1="104.25" y1="640.30" x2="118.75" y2="640.30" stroke="#55e22b" stroke-width="1.2"/>
<circle cx="107.70" cy="619.80" r="3.20" fill="#55e22b" stroke="#55e22b" stroke-width="0.5"/>
<circle cx="115.50" cy="619.80" r="3.20" fill="#55e22b" stroke="#55e22b" stroke-width="0.5"/>
<circle cx="111.50" cy="636.80" r="3.20" fill="#55e22b" stroke="#55e22b" stroke-width="0.5"/>
<circle cx="111.50" cy="643.80" r="3.20" fill="#55e22b" stroke="#55e22b" stroke-width="0.5"/>
<circle cx="111.50" cy="664.80" r="3.20" fill="#55e22b" stroke="#55e22b" stroke-width="0.5"/>
<circle cx="111.50" cy="704.10" r="3.20" fill="#55e22b" stroke="#55e22b" stroke-width="0.5"/>
<line x1="133.60" y1="647.30" x2="133.60" y2="631.00" stroke="#c84ce8" stroke-width="1.02"/>
<line x1="130.10" y1="631.00" x2="137.10" y2="631.00" stroke="#c84ce8" stroke-width="1.2"/>
<line x1="133.60" y1="647.30" x2="133.60" y2="660.00" stroke="#c84ce8" stroke-width="1.02"/>
<line x1="130.10" y1="660.00" x2="137.10" y2="660.00" stroke="#c84ce8" stroke-width="1.2"/>
<line x1="126.60" y1="647.30" x2="140.60" y2="647.30" stroke="#c84ce8" stroke-width="1.2"/>
<circle cx="129.60" cy="622.30" r="3.20" fill="#c84ce8" stroke="#c84ce8" stroke-width="0.5"/>
<circle cx="137.50" cy="626.30" r="3.20" fill="#c84ce8" stroke="#c84ce8" stroke-width="0.5"/>
<circle cx="133.60" cy="631.00" r="3.20" fill="#c84ce8" stroke="#c84ce8" stroke-width="0.5"/>
<circle cx="133.60" cy="639.40" r="3.20" fill="#c84ce8" stroke="#c84ce8" stroke-width="0.5"/>
<circle cx="129.60" cy="647.30" r="3.20" fill="#c84ce8" stroke="#c84ce8" stroke-width="0.5"/>
<circle cx="137.50" cy="647.30" r="3.20" fill="#c84ce8" stroke="#c84ce8" stroke-width="0.5"/>
<circle cx="133.60" cy="647.30" r="3.20" fill="#c84ce8" stroke="#c84ce8" stroke-width="0.5"/>
<circle cx="133.60" cy="660.10" r="3.20" fill="#c84ce8" stroke="#c84ce8" stroke-width="0.5"/>
<circle cx="137.50" cy="662.20" r="3.20" fill="#c84ce8" stroke="#c84ce8" stroke-width="0.5"/>
<circle cx="129.60" cy="667.40" r="3.20" fill="#c84ce8" stroke="#c84ce8" stroke-width="0.5"/>
<line x1="155.80" y1="630.70" x2="155.80" y2="625.00" stroke="#f0962a" stroke-width="1.02"/>
<line x1="152.30" y1="625.00" x2="159.30" y2="625.00" stroke="#f0962a" stroke-width="1.2"/>
<line x1="155.80" y1="630.70" x2="155.80" y2="653.40" stroke="#f0962a" stroke-width="1.02"/>
<line x1="152.30" y1="653.40" x2="159.30" y2="653.40" stroke="#f0962a" stroke-width="1.2"/>
<line x1="148.80" y1="630.70" x2="162.80" y2="630.70" stroke="#f0962a" stroke-width="1.2"/>
<circle cx="154.10" cy="622.30" r="3.20" fill="#f0962a" stroke="#f0962a" stroke-width="0.5"/>
<circle cx="157.60" cy="621.30" r="3.20" fill="#f0962a" stroke="#f0962a" stroke-width="0.5"/>
<circle cx="151.50" cy="629.80" r="3.20" fill="#f0962a" stroke="#f0962a" stroke-width="0.5"/>
<circle cx="155.80" cy="629.00" r="3.20" fill="#f0962a" stroke="#f0962a" stroke-width="0.5"/>
<circle cx="160.20" cy="631.60" r="3.20" fill="#f0962a" stroke="#f0962a" stroke-width="0.5"/>
<circle cx="155.80" cy="644.70" r="3.20" fill="#f0962a" stroke="#f0962a" stroke-width="0.5"/>
<circle cx="155.80" cy="668.80" r="3.20" fill="#f0962a" stroke="#f0962a" stroke-width="0.5"/>
<circle cx="155.80" cy="689.80" r="3.20" fill="#f0962a" stroke="#f0962a" stroke-width="0.5"/>
<line x1="177.70" y1="642.90" x2="177.70" y2="630.00" stroke="#000" stroke-width="1.02"/>
<line x1="174.20" y1="630.00" x2="181.20" y2="630.00" stroke="#000" stroke-width="1.2"/>
<line x1="177.70" y1="642.90" x2="177.70" y2="655.00" stroke="#000" stroke-width="1.02"/>
<line x1="174.20" y1="655.00" x2="181.20" y2="655.00" stroke="#000" stroke-width="1.2"/>
<line x1="170.70" y1="642.90" x2="184.70" y2="642.90" stroke="#000" stroke-width="1.2"/>
<circle cx="177.70" cy="612.00" r="3.20" fill="#000" stroke="#000" stroke-width="0.5"/>
<circle cx="173.80" cy="630.70" r="3.20" fill="#000" stroke="#000" stroke-width="0.5"/>
<circle cx="182.10" cy="629.80" r="3.20" fill="#000" stroke="#000" stroke-width="0.5"/>
<circle cx="182.10" cy="636.80" r="3.20" fill="#000" stroke="#000" stroke-width="0.5"/>
<circle cx="173.80" cy="643.80" r="3.20" fill="#000" stroke="#000" stroke-width="0.5"/>
<circle cx="182.10" cy="647.00" r="3.20" fill="#000" stroke="#000" stroke-width="0.5"/>
<circle cx="173.80" cy="653.10" r="3.20" fill="#000" stroke="#000" stroke-width="0.5"/>
<circle cx="182.10" cy="655.20" r="3.20" fill="#000" stroke="#000" stroke-width="0.5"/>
<circle cx="177.70" cy="661.80" r="3.20" fill="#000" stroke="#000" stroke-width="0.5"/>
<line x1="199.50" y1="631.60" x2="199.50" y2="628.00" stroke="#a87a3a" stroke-width="1.02"/>
<line x1="196.00" y1="628.00" x2="203.00" y2="628.00" stroke="#a87a3a" stroke-width="1.2"/>
<line x1="199.50" y1="631.60" x2="199.50" y2="651.20" stroke="#a87a3a" stroke-width="1.02"/>
<line x1="196.00" y1="651.20" x2="203.00" y2="651.20" stroke="#a87a3a" stroke-width="1.2"/>
<line x1="192.50" y1="631.60" x2="206.50" y2="631.60" stroke="#a87a3a" stroke-width="1.2"/>
<circle cx="199.50" cy="614.60" r="3.20" fill="#a87a3a" stroke="#a87a3a" stroke-width="0.5"/>
<circle cx="195.00" cy="627.00" r="3.20" fill="#a87a3a" stroke="#a87a3a" stroke-width="0.5"/>
<circle cx="199.50" cy="626.30" r="3.20" fill="#a87a3a" stroke="#a87a3a" stroke-width="0.5"/>
<circle cx="204.00" cy="627.00" r="3.20" fill="#a87a3a" stroke="#a87a3a" stroke-width="0.5"/>
<circle cx="196.50" cy="630.50" r="3.20" fill="#a87a3a" stroke="#a87a3a" stroke-width="0.5"/>
<circle cx="202.50" cy="630.50" r="3.20" fill="#a87a3a" stroke="#a87a3a" stroke-width="0.5"/>
<circle cx="199.50" cy="637.70" r="3.20" fill="#a87a3a" stroke="#a87a3a" stroke-width="0.5"/>
<circle cx="199.50" cy="646.10" r="3.20" fill="#a87a3a" stroke="#a87a3a" stroke-width="0.5"/>
<circle cx="197.80" cy="682.30" r="3.20" fill="#a87a3a" stroke="#a87a3a" stroke-width="0.5"/>
<circle cx="201.80" cy="681.70" r="3.20" fill="#a87a3a" stroke="#a87a3a" stroke-width="0.5"/>
<line x1="221.50" y1="641.70" x2="221.50" y2="630.00" stroke="#1b1ba3" stroke-width="1.02"/>
<line x1="218.00" y1="630.00" x2="225.00" y2="630.00" stroke="#1b1ba3" stroke-width="1.2"/>
<line x1="221.50" y1="641.70" x2="221.50" y2="675.50" stroke="#1b1ba3" stroke-width="1.02"/>
<line x1="218.00" y1="675.50" x2="225.00" y2="675.50" stroke="#1b1ba3" stroke-width="1.2"/>
<line x1="214.50" y1="641.70" x2="228.50" y2="641.70" stroke="#1b1ba3" stroke-width="1.2"/>
<circle cx="217.90" cy="622.00" r="3.20" fill="#1b1ba3" stroke="#1b1ba3" stroke-width="0.5"/>
<circle cx="221.90" cy="627.30" r="3.20" fill="#1b1ba3" stroke="#1b1ba3" stroke-width="0.5"/>
<circle cx="225.90" cy="630.50" r="3.20" fill="#1b1ba3" stroke="#1b1ba3" stroke-width="0.5"/>
<circle cx="217.90" cy="631.70" r="3.20" fill="#1b1ba3" stroke="#1b1ba3" stroke-width="0.5"/>
<circle cx="220.70" cy="659.20" r="3.20" fill="#1b1ba3" stroke="#1b1ba3" stroke-width="0.5"/>
<circle cx="223.30" cy="665.30" r="3.20" fill="#1b1ba3" stroke="#1b1ba3" stroke-width="0.5"/>
<circle cx="220.70" cy="671.50" r="3.20" fill="#1b1ba3" stroke="#1b1ba3" stroke-width="0.5"/>
<circle cx="221.50" cy="689.80" r="3.20" fill="#1b1ba3" stroke="#1b1ba3" stroke-width="0.5"/>
<circle cx="221.50" cy="699.70" r="3.20" fill="#1b1ba3" stroke="#1b1ba3" stroke-width="0.5"/>
<line x1="243.80" y1="641.50" x2="243.80" y2="620.60" stroke="#6c1c72" stroke-width="1.02"/>
<line x1="240.30" y1="620.60" x2="247.30" y2="620.60" stroke="#6c1c72" stroke-width="1.2"/>
<line x1="243.80" y1="641.50" x2="243.80" y2="662.00" stroke="#6c1c72" stroke-width="1.02"/>
<line x1="240.30" y1="662.00" x2="247.30" y2="662.00" stroke="#6c1c72" stroke-width="1.2"/>
<line x1="236.80" y1="641.50" x2="250.80" y2="641.50" stroke="#6c1c72" stroke-width="1.2"/>
<circle cx="243.80" cy="609.80" r="3.20" fill="#6c1c72" stroke="#6c1c72" stroke-width="0.5"/>
<circle cx="243.80" cy="617.30" r="3.20" fill="#6c1c72" stroke="#6c1c72" stroke-width="0.5"/>
<circle cx="243.80" cy="624.70" r="3.20" fill="#6c1c72" stroke="#6c1c72" stroke-width="0.5"/>
<circle cx="239.90" cy="640.40" r="3.20" fill="#6c1c72" stroke="#6c1c72" stroke-width="0.5"/>
<circle cx="247.70" cy="641.70" r="3.20" fill="#6c1c72" stroke="#6c1c72" stroke-width="0.5"/>
<circle cx="243.80" cy="646.20" r="3.20" fill="#6c1c72" stroke="#6c1c72" stroke-width="0.5"/>
<circle cx="241.70" cy="661.50" r="3.20" fill="#6c1c72" stroke="#6c1c72" stroke-width="0.5"/>
<circle cx="245.90" cy="664.10" r="3.20" fill="#6c1c72" stroke="#6c1c72" stroke-width="0.5"/>
<circle cx="243.80" cy="707.90" r="3.20" fill="#6c1c72" stroke="#6c1c72" stroke-width="0.5"/>
<line x1="265.70" y1="644.80" x2="265.70" y2="617.10" stroke="#b5200f" stroke-width="1.02"/>
<line x1="262.20" y1="617.10" x2="269.20" y2="617.10" stroke="#b5200f" stroke-width="1.2"/>
<line x1="265.70" y1="644.80" x2="265.70" y2="656.00" stroke="#b5200f" stroke-width="1.02"/>
<line x1="262.20" y1="656.00" x2="269.20" y2="656.00" stroke="#b5200f" stroke-width="1.2"/>
<line x1="258.70" y1="644.80" x2="272.70" y2="644.80" stroke="#b5200f" stroke-width="1.2"/>
<circle cx="263.40" cy="609.80" r="3.20" fill="#b5200f" stroke="#b5200f" stroke-width="0.5"/>
<circle cx="268.00" cy="608.00" r="3.20" fill="#b5200f" stroke="#b5200f" stroke-width="0.5"/>
<circle cx="265.70" cy="620.00" r="3.20" fill="#b5200f" stroke="#b5200f" stroke-width="0.5"/>
<circle cx="265.70" cy="632.00" r="3.20" fill="#b5200f" stroke="#b5200f" stroke-width="0.5"/>
<circle cx="261.30" cy="645.20" r="3.20" fill="#b5200f" stroke="#b5200f" stroke-width="0.5"/>
<circle cx="269.70" cy="644.50" r="3.20" fill="#b5200f" stroke="#b5200f" stroke-width="0.5"/>
<circle cx="265.70" cy="648.70" r="3.20" fill="#b5200f" stroke="#b5200f" stroke-width="0.5"/>
<circle cx="263.40" cy="655.70" r="3.20" fill="#b5200f" stroke="#b5200f" stroke-width="0.5"/>
<circle cx="268.00" cy="657.10" r="3.20" fill="#b5200f" stroke="#b5200f" stroke-width="0.5"/>
<circle cx="265.70" cy="692.50" r="3.20" fill="#b5200f" stroke="#b5200f" stroke-width="0.5"/>
<line x1="287.60" y1="637.50" x2="287.60" y2="632.00" stroke="#2b7a1f" stroke-width="1.02"/>
<line x1="284.10" y1="632.00" x2="291.10" y2="632.00" stroke="#2b7a1f" stroke-width="1.2"/>
<line x1="287.60" y1="637.50" x2="287.60" y2="645.00" stroke="#2b7a1f" stroke-width="1.02"/>
<line x1="284.10" y1="645.00" x2="291.10" y2="645.00" stroke="#2b7a1f" stroke-width="1.2"/>
<line x1="280.60" y1="637.50" x2="294.60" y2="637.50" stroke="#2b7a1f" stroke-width="1.2"/>
<circle cx="287.60" cy="612.90" r="3.20" fill="#2b7a1f" stroke="#2b7a1f" stroke-width="0.5"/>
<circle cx="285.80" cy="630.50" r="3.20" fill="#2b7a1f" stroke="#2b7a1f" stroke-width="0.5"/>
<circle cx="289.30" cy="630.80" r="3.20" fill="#2b7a1f" stroke="#2b7a1f" stroke-width="0.5"/>
<circle cx="284.10" cy="642.20" r="3.20" fill="#2b7a1f" stroke="#2b7a1f" stroke-width="0.5"/>
<circle cx="291.10" cy="641.30" r="3.20" fill="#2b7a1f" stroke="#2b7a1f" stroke-width="0.5"/>
<circle cx="287.60" cy="639.60" r="3.20" fill="#2b7a1f" stroke="#2b7a1f" stroke-width="0.5"/>
<circle cx="289.30" cy="646.60" r="3.20" fill="#2b7a1f" stroke="#2b7a1f" stroke-width="0.5"/>
<circle cx="286.70" cy="652.70" r="3.20" fill="#2b7a1f" stroke="#2b7a1f" stroke-width="0.5"/>
<text x="314.90" y="539.60" font-size="10.5" text-anchor="start" font-weight="bold" fill="#000" stroke="#000" stroke-width="0.2" >g</text>
<text x="445.30" y="544.50" font-size="11" text-anchor="middle" font-weight="normal" fill="#111" stroke="#111" stroke-width="0.2" >Naked Nanoparticles</text>
<line x1="362.20" y1="575.50" x2="362.20" y2="742.40" stroke="#000" stroke-width="1.5"/>
<line x1="355.20" y1="741.80" x2="528.10" y2="741.80" stroke="#000" stroke-width="1.5"/>
<line x1="355.20" y1="576.10" x2="362.20" y2="576.10" stroke="#000" stroke-width="1.5"/>
<text x="0.00" y="0.00" font-size="9.5" text-anchor="end" font-weight="normal" fill="#111" stroke="#111" stroke-width="0.2" transform="translate(351.60,578.67) scale(0.9,1)" >10</text>
<line x1="355.20" y1="631.40" x2="362.20" y2="631.40" stroke="#000" stroke-width="1.5"/>
<text x="0.00" y="0.00" font-size="9.5" text-anchor="end" font-weight="normal" fill="#111" stroke="#111" stroke-width="0.2" transform="translate(351.60,633.97) scale(0.9,1)" >1</text>
<line x1="355.20" y1="686.70" x2="362.20" y2="686.70" stroke="#000" stroke-width="1.5"/>
<text x="0.00" y="0.00" font-size="9.5" text-anchor="end" font-weight="normal" fill="#111" stroke="#111" stroke-width="0.2" transform="translate(351.60,689.27) scale(0.9,1)" >0.1</text>
<line x1="355.20" y1="741.80" x2="362.20" y2="741.80" stroke="#000" stroke-width="1.5"/>
<text x="0.00" y="0.00" font-size="9.5" text-anchor="end" font-weight="normal" fill="#111" stroke="#111" stroke-width="0.2" transform="translate(351.60,744.37) scale(0.9,1)" >0.01</text>
<line x1="383.00" y1="741.80" x2="383.00" y2="748.80" stroke="#000" stroke-width="1.5"/>
<text x="0.00" y="0.00" font-size="9.2" text-anchor="end" font-weight="normal" fill="#111" stroke="#111" stroke-width="0.2" transform="translate(385.00,756.30) rotate(-45)" >Adjuvant Only</text>
<line x1="413.90" y1="741.80" x2="413.90" y2="748.80" stroke="#000" stroke-width="1.5"/>
<text x="0.00" y="0.00" font-size="9.2" text-anchor="end" font-weight="normal" fill="#111" stroke="#111" stroke-width="0.2" transform="translate(415.90,756.30) rotate(-45)" >Monomer CSP</text>
<line x1="444.90" y1="741.80" x2="444.90" y2="748.80" stroke="#000" stroke-width="1.5"/>
<text x="0.00" y="0.00" font-size="9.2" text-anchor="end" font-weight="normal" fill="#111" stroke="#111" stroke-width="0.2" transform="translate(446.90,756.30) rotate(-45)" >Naked 24mer</text>
<line x1="475.90" y1="741.80" x2="475.90" y2="748.80" stroke="#000" stroke-width="1.5"/>
<text x="0.00" y="0.00" font-size="9.2" text-anchor="end" font-weight="normal" fill="#111" stroke="#111" stroke-width="0.2" transform="translate(477.90,756.30) rotate(-45)" >Naked 60mer</text>
<line x1="507.20" y1="741.80" x2="507.20" y2="748.80" stroke="#000" stroke-width="1.5"/>
<text x="0.00" y="0.00" font-size="9.2" text-anchor="end" font-weight="normal" fill="#111" stroke="#111" stroke-width="0.2" transform="translate(509.20,756.30) rotate(-45)" >J3R3-60mer</text>
<text x="0.00" y="0.00" font-size="8.6" text-anchor="middle" font-weight="normal" fill="#111" stroke="#111" stroke-width="0.2" transform="translate(321.70,653.40) rotate(-90)" >Flux [p/s] normalized</text>
<text x="0.00" y="0.00" font-size="8.6" text-anchor="middle" font-weight="normal" fill="#111" stroke="#111" stroke-width="0.2" transform="translate(332.40,652.00) rotate(-90)" >to Adjuvant Only</text>
<path d="M382.50,562.40V555.50H508.50V593.10" stroke="#1a1a1a" stroke-width="1.2" fill="none"/>
<text x="439.40" y="557.47" font-size="10.5" text-anchor="middle" font-weight="normal" fill="#222" stroke="#222" stroke-width="0.2" >****</text>
<path d="M382.50,570.30V565.50H476.50V592.20" stroke="#1a1a1a" stroke-width="1.2" fill="none"/>
<text x="435.00" y="563.30" font-size="8" text-anchor="middle" font-weight="normal" fill="#222" stroke="#222" stroke-width="0.2" >ns</text>
<path d="M382.50,579.40V574.50H445.50V591.30" stroke="#1a1a1a" stroke-width="1.2" fill="none"/>
<text x="414.00" y="572.50" font-size="8" text-anchor="middle" font-weight="normal" fill="#222" stroke="#222" stroke-width="0.2" >ns</text>
<path d="M382.50,587.00V582.50H412.50V587.00" stroke="#1a1a1a" stroke-width="1.2" fill="none"/>
<text x="397.20" y="584.27" font-size="10.5" text-anchor="middle" font-weight="normal" fill="#222" stroke="#222" stroke-width="0.2" >***</text>
<line x1="383.00" y1="625.70" x2="383.00" y2="605.40" stroke="#000" stroke-width="1.02"/>
<line x1="378.00" y1="605.40" x2="388.00" y2="605.40" stroke="#000" stroke-width="1.2"/>
<line x1="383.00" y1="625.70" x2="383.00" y2="642.40" stroke="#000" stroke-width="1.02"/>
<line x1="378.00" y1="642.40" x2="388.00" y2="642.40" stroke="#000" stroke-width="1.2"/>
<line x1="373.25" y1="625.70" x2="392.75" y2="625.70" stroke="#000" stroke-width="1.2"/>
<circle cx="383.00" cy="594.10" r="3.20" fill="#000" stroke="#000" stroke-width="0.5"/>
<circle cx="375.70" cy="606.60" r="3.20" fill="#000" stroke="#000" stroke-width="0.5"/>
<circle cx="390.00" cy="603.50" r="3.20" fill="#000" stroke="#000" stroke-width="0.5"/>
<circle cx="383.00" cy="614.70" r="3.20" fill="#000" stroke="#000" stroke-width="0.5"/>
<circle cx="390.00" cy="624.40" r="3.20" fill="#000" stroke="#000" stroke-width="0.5"/>
<circle cx="375.70" cy="627.30" r="3.20" fill="#000" stroke="#000" stroke-width="0.5"/>
<circle cx="390.00" cy="631.90" r="3.20" fill="#000" stroke="#000" stroke-width="0.5"/>
<circle cx="375.70" cy="637.10" r="3.20" fill="#000" stroke="#000" stroke-width="0.5"/>
<circle cx="375.70" cy="687.90" r="3.20" fill="#000" stroke="#000" stroke-width="0.5"/>
<circle cx="390.00" cy="686.90" r="3.20" fill="#000" stroke="#000" stroke-width="0.5"/>
<line x1="414.40" y1="701.70" x2="414.40" y2="692.30" stroke="#000" stroke-width="1.02"/>
<line x1="409.40" y1="692.30" x2="419.40" y2="692.30" stroke="#000" stroke-width="1.2"/>
<line x1="414.40" y1="701.70" x2="414.40" y2="708.00" stroke="#000" stroke-width="1.02"/>
<line x1="409.40" y1="708.00" x2="419.40" y2="708.00" stroke="#000" stroke-width="1.2"/>
<line x1="403.90" y1="701.70" x2="424.90" y2="701.70" stroke="#000" stroke-width="1.2"/>
<circle cx="416.00" cy="679.00" r="3.25" fill="none" stroke="#000" stroke-width="1.6"/>
<circle cx="411.60" cy="683.30" r="3.25" fill="none" stroke="#000" stroke-width="1.6"/>
<circle cx="407.10" cy="696.30" r="3.25" fill="none" stroke="#000" stroke-width="1.6"/>
<circle cx="421.40" cy="697.60" r="3.25" fill="none" stroke="#000" stroke-width="1.6"/>
<circle cx="416.00" cy="699.10" r="3.25" fill="none" stroke="#000" stroke-width="1.6"/>
<circle cx="407.10" cy="702.80" r="3.25" fill="none" stroke="#000" stroke-width="1.6"/>
<circle cx="412.00" cy="703.60" r="3.25" fill="none" stroke="#000" stroke-width="1.6"/>
<circle cx="416.00" cy="706.10" r="3.25" fill="none" stroke="#000" stroke-width="1.6"/>
<circle cx="421.70" cy="706.60" r="3.25" fill="none" stroke="#000" stroke-width="1.6"/>
<circle cx="407.10" cy="711.40" r="3.25" fill="none" stroke="#000" stroke-width="1.6"/>
<circle cx="416.00" cy="709.30" r="3.25" fill="none" stroke="#000" stroke-width="1.6"/>
<line x1="445.20" y1="637.60" x2="445.20" y2="621.20" stroke="#ff2a14" stroke-width="1.02"/>
<line x1="440.20" y1="621.20" x2="450.20" y2="621.20" stroke="#ff2a14" stroke-width="1.2"/>
<line x1="445.20" y1="637.60" x2="445.20" y2="666.00" stroke="#ff2a14" stroke-width="1.02"/>
<line x1="440.20" y1="666.00" x2="450.20" y2="666.00" stroke="#ff2a14" stroke-width="1.2"/>
<line x1="434.70" y1="637.60" x2="455.70" y2="637.60" stroke="#ff2a14" stroke-width="1.2"/>
<circle cx="445.20" cy="604.30" r="3.00" fill="#ff2a14" stroke="#ff2a14" stroke-width="0.5"/>
<circle cx="445.20" cy="614.70" r="3.00" fill="#ff2a14" stroke="#ff2a14" stroke-width="0.5"/>
<circle cx="452.20" cy="624.40" r="3.00" fill="#ff2a14" stroke="#ff2a14" stroke-width="0.5"/>
<circle cx="437.90" cy="630.60" r="3.00" fill="#ff2a14" stroke="#ff2a14" stroke-width="0.5"/>
<circle cx="452.20" cy="635.10" r="3.00" fill="#ff2a14" stroke="#ff2a14" stroke-width="0.5"/>
<circle cx="437.90" cy="640.30" r="3.00" fill="#ff2a14" stroke="#ff2a14" stroke-width="0.5"/>
<circle cx="445.20" cy="648.10" r="3.00" fill="#ff2a14" stroke="#ff2a14" stroke-width="0.5"/>
<circle cx="445.20" cy="661.10" r="3.00" fill="#ff2a14" stroke="#ff2a14" stroke-width="0.5"/>
<circle cx="437.90" cy="706.10" r="3.00" fill="#ff2a14" stroke="#ff2a14" stroke-width="0.5"/>
<circle cx="452.20" cy="705.60" r="3.00" fill="#ff2a14" stroke="#ff2a14" stroke-width="0.5"/>
<line x1="476.30" y1="640.40" x2="476.30" y2="626.20" stroke="#2a10ff" stroke-width="1.02"/>
<line x1="471.30" y1="626.20" x2="481.30" y2="626.20" stroke="#2a10ff" stroke-width="1.2"/>
<line x1="476.30" y1="640.40" x2="476.30" y2="657.40" stroke="#2a10ff" stroke-width="1.02"/>
<line x1="471.30" y1="657.40" x2="481.30" y2="657.40" stroke="#2a10ff" stroke-width="1.2"/>
<line x1="465.80" y1="640.40" x2="486.80" y2="640.40" stroke="#2a10ff" stroke-width="1.2"/>
<circle cx="483.20" cy="618.70" r="3.25" fill="none" stroke="#2a10ff" stroke-width="1.6"/>
<circle cx="469.20" cy="622.50" r="3.25" fill="none" stroke="#2a10ff" stroke-width="1.6"/>
<circle cx="483.20" cy="628.50" r="3.25" fill="none" stroke="#2a10ff" stroke-width="1.6"/>
<circle cx="469.20" cy="631.10" r="3.25" fill="none" stroke="#2a10ff" stroke-width="1.6"/>
<circle cx="476.30" cy="637.40" r="3.25" fill="none" stroke="#2a10ff" stroke-width="1.6"/>
<circle cx="469.20" cy="644.60" r="3.25" fill="none" stroke="#2a10ff" stroke-width="1.6"/>
<circle cx="483.20" cy="648.70" r="3.25" fill="none" stroke="#2a10ff" stroke-width="1.6"/>
<circle cx="469.20" cy="653.20" r="3.25" fill="none" stroke="#2a10ff" stroke-width="1.6"/>
<circle cx="476.30" cy="678.60" r="3.25" fill="none" stroke="#2a10ff" stroke-width="1.6"/>
<circle cx="476.30" cy="712.00" r="3.25" fill="none" stroke="#2a10ff" stroke-width="1.6"/>
<line x1="507.10" y1="704.80" x2="507.10" y2="700.00" stroke="#2a10ff" stroke-width="1.02"/>
<line x1="502.10" y1="700.00" x2="512.10" y2="700.00" stroke="#2a10ff" stroke-width="1.2"/>
<line x1="507.10" y1="704.80" x2="507.10" y2="709.00" stroke="#2a10ff" stroke-width="1.02"/>
<line x1="502.10" y1="709.00" x2="512.10" y2="709.00" stroke="#2a10ff" stroke-width="1.2"/>
<line x1="496.60" y1="704.80" x2="517.60" y2="704.80" stroke="#2a10ff" stroke-width="1.2"/>
<polygon points="507.10,696.56 510.14,690.29 504.06,690.29" fill="none" stroke="#2a10ff" stroke-width="1.6" stroke-linejoin="miter"/>
<polygon points="499.90,705.56 502.94,699.29 496.86,699.29" fill="none" stroke="#2a10ff" stroke-width="1.6" stroke-linejoin="miter"/>
<polygon points="505.20,703.36 508.24,697.09 502.16,697.09" fill="none" stroke="#2a10ff" stroke-width="1.6" stroke-linejoin="miter"/>
<polygon points="514.10,703.36 517.14,697.09 511.06,697.09" fill="none" stroke="#2a10ff" stroke-width="1.6" stroke-linejoin="miter"/>
<polygon points="499.90,713.06 502.94,706.79 496.86,706.79" fill="none" stroke="#2a10ff" stroke-width="1.6" stroke-linejoin="miter"/>
<polygon points="505.90,710.86 508.94,704.59 502.86,704.59" fill="none" stroke="#2a10ff" stroke-width="1.6" stroke-linejoin="miter"/>
<polygon points="511.20,714.56 514.24,708.29 508.16,708.29" fill="none" stroke="#2a10ff" stroke-width="1.6" stroke-linejoin="miter"/>
<polygon points="514.60,709.36 517.64,703.09 511.56,703.09" fill="none" stroke="#2a10ff" stroke-width="1.6" stroke-linejoin="miter"/>
</svg>
</body></html>
